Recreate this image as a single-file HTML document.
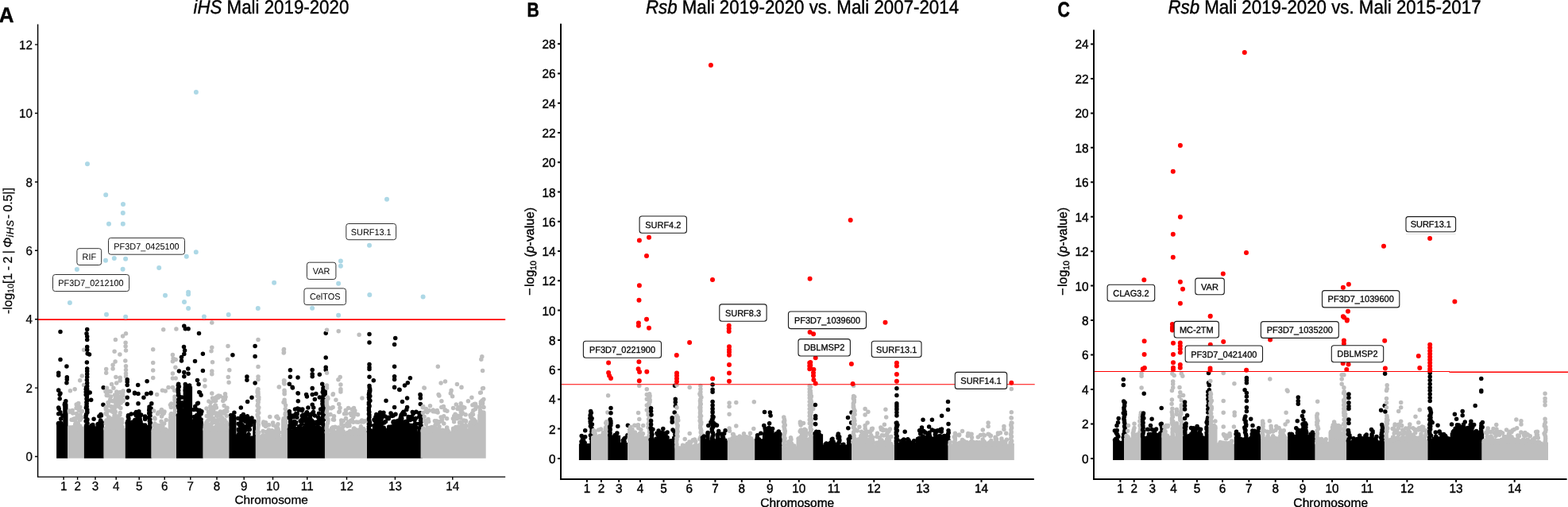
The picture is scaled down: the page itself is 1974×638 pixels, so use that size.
<!DOCTYPE html>
<html lang="en"><head><meta charset="utf-8"><title>Selection scans: iHS and Rsb, Mali</title>
<style>html,body{margin:0;padding:0;background:#fff}body{width:1974px;height:638px;overflow:hidden}svg{display:block}text{font-family:"Liberation Sans", sans-serif;fill:#000}</style>
</head><body>
<svg width="1974" height="638" viewBox="0 0 1974 638" text-rendering="geometricPrecision">
<rect width="1974" height="638" fill="#fff"/>
<g id="panel-A">
<path d="M71.1 576.7V532.6H79.8V576.7ZM79.2 576.7V508.3H85.5V576.7Z" fill="#000"/>
<path d="M73.4 533.1h0M76.2 532h0M75.9 518.8h0M73.7 532.5h0M76.6 527h0M76.3 532.6h0M75.1 520.5h0M74.2 514.4h0M76.8 532.5h0M81.6 507.8h0M82.2 507.6h0M76 417.5h0M76 452.5h0M83.9 461.1h0M73.7 469.2h0M73.7 472.2h0M84.3 474.8h0M84.3 477.5h0M83.9 481.8h0M73.7 491.2h0M76 495h0M73.7 491.1h0M75.2 496.4h0M75.2 501.7h0M73.7 513.1h0M73.7 520.7h0M79 523h0M82.8 504.8h0M81.3 509.3h0" stroke="#000" stroke-width="5.5" stroke-linecap="round" fill="none"/>
<path d="M85 576.7V540.2H106.2V576.7Z" fill="#bebebe"/>
<path d="M87.7 538.1h0M89.6 539.6h0M91.3 538.7h0M93.6 538.1h0M96.7 540h0M99.1 540.7h0M100 540.3h0M103.4 539.3h0M98.3 534.6h0M96.9 512.5h0M101.1 528.2h0M96.9 540h0M91.2 516.4h0M94.1 537.8h0M96.3 520.5h0M98.3 532.5h0M94.5 528.1h0M100 527.6h0M93.7 528.7h0M87.7 539.9h0M98.8 507.6h0M97 531.9h0M90 528.3h0M103.4 517.6h0M96.1 513.5h0M91.1 527.9h0M102.9 525.5h0M94.8 535.5h0M96.2 508.9h0M87.3 517h0M100.7 512.3h0M99.4 515.9h0M95.8 526.1h0M94.2 539.7h0M101.5 525.8h0M90.5 528.2h0M95.2 533.1h0M92.9 527h0M97.5 524.2h0M94.8 540h0M91 537.7h0M96.8 513.5h0M100.4 516.4h0M100.7 535.9h0M101.1 521.7h0M88.6 540.1h0M87.5 518.2h0M91.3 539h0M97.5 533.4h0M88.4 538.1h0M95.9 537.9h0M91.7 520.1h0M94.7 534.1h0M95 540.1h0M105.6 440.3h0M103.3 473h0M100.7 478.8h0M94.2 489.7h0M88.4 491.7h0M105.6 484.4h0" stroke="#bebebe" stroke-width="5.5" stroke-linecap="round" fill="none"/>
<path d="M105.9 576.7V534.9H113.2V576.7ZM112.6 576.7V536.4H121.1V576.7ZM120.5 576.7V532.6H130.8V576.7Z" fill="#000"/>
<path d="M108.6 487.8h0M108.2 489.7h0M109.8 491.2h0M108.2 493.2h0M109.6 495.3h0M108.2 496.7h0M109.4 498.3h0M109.4 499.9h0M109 502.1h0M110 503.8h0M108.9 506.2h0M109.2 507.8h0M109 509.7h0M109.2 511.5h0M108.4 513h0M109.8 515.5h0M109.7 517.3h0M109.9 519.1h0M108.7 521.3h0M108.2 523h0M108.2 525.5h0M110 527.9h0M108.2 530h0M110 532.4h0M108.9 534.7h0M108.5 536.5h0M115.9 535.6h0M117.1 536.3h0M116.9 534.4h0M118.1 527.3h0M115.2 535.4h0M123.4 533.5h0M126.1 531.1h0M127.4 523h0M124.9 523.8h0M126.7 529h0M128.2 531.4h0M126.9 532.3h0M109.7 414.4h0M109 419.8h0M109.7 423.6h0M109.7 427.4h0M109.7 436.5h0M109.7 440.3h0M110.2 444.9h0M112.5 446.1h0M109.4 456h0M109.7 463.9h0M109.7 466.9h0M109.7 470.7h0M109.7 474.5h0M109.4 478.3h0M109.7 482.1h0M109.7 485.9h0M109.7 489.7h0M109.7 493.5h0M109.7 496.5h0M130.2 487.7h0M114.7 503.2h0M129.9 509.3h0M126.9 521.5h0M113.2 494.1h0" stroke="#000" stroke-width="5.5" stroke-linecap="round" fill="none"/>
<path d="M130.5 576.7V538.7H158.1V576.7Z" fill="#bebebe"/>
<path d="M132.9 539.4h0M135.5 538.4h0M137.8 537.6h0M140.4 538.4h0M143.4 536.9h0M144.8 536.6h0M147.4 539h0M149.6 538.4h0M152.3 538.3h0M153.9 537.3h0M145.6 496.7h0M143.2 531.8h0M150.7 503.2h0M133.1 512.8h0M134.9 536.8h0M152.9 538.3h0M138.2 492.4h0M142.4 536.8h0M136.6 533.1h0M149.7 537.1h0M153.5 527.7h0M154.8 497.8h0M139.5 532.7h0M143.6 537.2h0M147.6 538.3h0M133 492.8h0M139.5 517h0M143 530.4h0M134.2 497.5h0M154.8 493.7h0M135.3 534h0M146.8 493h0M145.1 511.8h0M147.8 532.5h0M145.1 530.6h0M138.4 537.6h0M139.2 492.7h0M143 513.9h0M147.4 495.7h0M141.7 530.7h0M140.2 530.3h0M152 498.9h0M139.7 529.6h0M145.2 517.9h0M146.3 532.9h0M133.3 533h0M134.4 519.4h0M134.4 537.7h0M147.2 531.3h0M150.8 522.3h0M152.4 535.8h0M144.2 505.3h0M134.6 495.1h0M136.7 506.4h0M155.2 503.6h0M140.1 537h0M144.5 497.1h0M139.5 498.9h0M136 497.7h0M133.5 530.3h0M153.3 504.7h0M153.4 502.3h0M149.7 511.7h0M136.8 525.3h0M136.4 510.2h0M148 532.7h0M134.3 494.1h0M151.2 519.5h0M145.1 501.7h0M143.1 526.9h0M140.5 532.5h0M133.4 514.2h0M142.3 518.4h0M134.2 528.7h0M135.9 536.6h0M138.7 503.1h0M141.8 526.7h0M146.7 533.3h0M133 520.6h0M144.2 514h0M142.8 511.9h0M149.4 533.2h0M144 523.1h0M137.9 526.2h0M145.5 498h0M153.6 531.9h0M147.5 538.2h0M134.4 521.4h0M152.7 535.7h0M150.2 499.6h0M139.9 511.5h0M152.1 528h0M148.7 508.9h0M146.3 501.3h0M153.2 494.3h0M145.8 535.2h0M138.5 533.9h0M145.7 507.6h0M134 512.2h0M149.1 529h0M144.5 535.5h0M149.4 538.3h0M155.1 504.4h0M147.1 532.1h0M153.5 494.4h0M136 506.5h0M151.9 513.4h0M148.7 524.7h0M153.8 493.6h0M141.5 504.8h0M142.6 535.5h0M140.2 536.5h0M153.4 494.4h0M135.5 516.7h0M142.1 536.8h0M139.5 532.8h0M149.8 538.7h0M137.1 525h0M133.3 515.2h0M146.6 502.7h0M137.5 531.5h0M145.1 531.9h0M146.1 532.7h0M148.3 505.5h0M151.2 493.4h0M145.2 522.5h0M152.2 506.9h0M145.8 527.5h0M139.3 537h0M158.5 419.8h0M154.6 423.1h0M145.4 427.4h0M158.1 431.2h0M158.1 435.7h0M158.5 441.1h0M144.1 442.3h0M150.9 446.1h0M157.8 454h0M145.1 455h0M142.1 459.3h0M142.1 463.9h0M133.7 464.6h0M133.7 469.2h0M158.5 460.8h0M158.5 465.4h0M158.5 469.9h0M158.5 473.7h0M145.9 474.5h0M151.2 475.3h0M151.2 479.1h0M140.6 483.6h0M146.7 482.1h0M142.9 488.2h0M134.5 488.2h0M134.5 492.7h0M155 492h0M146.7 495.8h0" stroke="#bebebe" stroke-width="5.5" stroke-linecap="round" fill="none"/>
<path d="M157.8 576.7V531.1H162.2V576.7ZM161.6 576.7V532.6H181.2V576.7ZM180.6 576.7V536.4H184.7V576.7ZM184.1 576.7V534.9H191.4V576.7Z" fill="#000"/>
<path d="M161.5 522.7h0M161.3 524.3h0M161.9 526.3h0M161.9 528.6h0M160.8 530.2h0M160.3 532.3h0M164.4 532.1h0M166.2 531.8h0M168.1 532.9h0M170.8 532.5h0M172.6 530.4h0M175 533.2h0M177.7 533.5h0M176.2 528.6h0M174.9 517.7h0M168.5 531.5h0M173.1 526.7h0M169.3 532.6h0M169.8 528.4h0M170 520.4h0M172.6 523h0M177.1 522.7h0M171.3 522.8h0M173.4 524.6h0M173.3 528.6h0M173.2 524.9h0M177.7 522.1h0M176.4 522.4h0M175.9 525.4h0M169.2 530.5h0M174.4 520.2h0M172 531.7h0M176.2 527.5h0M170.9 532.4h0M171.5 522.8h0M170.3 529.4h0M173.6 532.5h0M171.5 518.6h0M174.1 528.7h0M174.1 525.4h0M167.2 531.1h0M177 530.5h0M165.2 521.1h0M171.7 529.2h0M171.5 523h0M182.6 534.9h0M182.6 535.2h0M182.6 527.6h0M182.6 526.3h0M182.6 524.1h0M188 512.1h0M187.9 514.2h0M187.7 516.3h0M189.4 518.6h0M187.8 520.4h0M189 523h0M187.4 525.4h0M188.8 527.9h0M188.3 529.7h0M189.2 532h0M188.8 533.6h0M189.6 535.2h0M160.2 477.8h0M160.2 480.6h0M160.2 484.4h0M162.3 491.7h0M173.7 484.4h0M185.1 479.8h0M169.5 494.3h0M174 495.5h0M184.7 495.8h0M190 494.3h0M160.2 500.2h0M160.2 508.6h0M174 507.8h0M190.8 507.8h0M169.5 494.9h0M174 495.6h0M180.9 500.2h0M184.7 495.6h0M190 494.9h0M161.9 491.8h0M190 513.9h0M187.7 520h0" stroke="#000" stroke-width="5.5" stroke-linecap="round" fill="none"/>
<path d="M190.3 576.7V541.7H212.3V576.7ZM211.7 576.7V527.3H218.4V576.7ZM217.8 576.7V504.5H222.2V576.7Z" fill="#bebebe"/>
<path d="M193.5 541.8h0M195.2 541.2h0M196.9 541.8h0M199.7 540.3h0M202.3 540.5h0M203.6 541.1h0M205.1 539.7h0M208.4 540.2h0M204.7 521.6h0M209.2 528.6h0M198.5 520.7h0M194.6 525.9h0M194.2 534.8h0M201.1 535.4h0M195.5 538.7h0M206.7 533.1h0M202.6 539h0M204.9 536.5h0M202.8 518h0M209.7 541.4h0M206.3 520h0M198.1 535.2h0M202.6 517.6h0M199.4 519.1h0M205.6 540.1h0M208.3 541.7h0M195.1 526.9h0M193.5 535.3h0M194.8 533.1h0M207 518.1h0M193.2 541.3h0M207 541.5h0M197.3 540.6h0M194.1 541.6h0M203.5 524.1h0M204.4 520.4h0M204 535.1h0M203.4 515.6h0M203.6 538.4h0M193.6 517h0M202.7 536.1h0M203 530.2h0M214.8 525.3h0M214.9 525.1h0M215.7 520.5h0M215.3 512.6h0M215.5 512.4h0M215.5 524.2h0M215.8 525.8h0M215.7 508.1h0M215.6 527h0M214.4 509.4h0M215 521.8h0M215.9 527.1h0M220 503h0M220 499.2h0M220 500.4h0M192.7 439.8h0M192.7 456.6h0M192.7 466.1h0M192.7 475.6h0M205.7 414.7h0M221.9 414h0M217.4 446.4h0M218.1 450.9h0M221.2 452.5h0M217.4 454.7h0M220.9 462.3h0M217.4 469.9h0M217.4 476h0M221.2 476h0M212 487.4h0M217.4 487.4h0M204.4 491.2h0M208.2 492h0M197.6 496.5h0M219.6 491.2h0" stroke="#bebebe" stroke-width="5.5" stroke-linecap="round" fill="none"/>
<path d="M222 576.7V522H227.5V576.7ZM226.9 576.7V523.5H231.2V576.7ZM230.6 576.7V486.2H242.1V576.7ZM241.5 576.7V529.7H255.8V576.7Z" fill="#000"/>
<path d="M224.3 484.7h0M225.4 486.6h0M224.3 489h0M224.3 491.1h0M224.3 493.4h0M224.7 494.9h0M224.5 497.2h0M225.7 498.7h0M225.8 501.1h0M224.8 502.8h0M225.1 504.5h0M224.6 506.3h0M226 508.7h0M224.3 510.8h0M224.8 513h0M225.5 515.5h0M225.4 517.9h0M225.9 520h0M224.4 522.4h0M229.1 522h0M229.1 516.3h0M229.1 511.5h0M229.1 522.5h0M229.1 517h0M229.1 509.6h0M229.1 523.2h0M229.1 500h0M229.1 506.7h0M229.1 517.9h0M229.1 518.3h0M233.5 485.1h0M236.3 485.7h0M238.6 485.1h0M244.1 530.6h0M247.4 530.5h0M250.2 530.5h0M253.1 527.9h0M249.4 507.2h0M251.3 516.3h0M251 524.7h0M252.8 517.9h0M247.8 522.5h0M253.1 520.8h0M245.6 528.4h0M250.4 520.1h0M252.4 527.9h0M247.9 515.5h0M244.6 529h0M249.1 526.6h0M245.1 526.6h0M249.9 521h0M244.8 529.2h0M251.9 517.9h0M245.7 511.5h0M244.3 524.6h0M231.8 410.3h0M233.3 413.7h0M237.1 413.7h0M250.5 419.5h0M231.5 436.5h0M232.6 441.1h0M231.8 445.6h0M228.5 449.4h0M228.5 454h0M255.4 445.3h0M245.5 454.4h0M236.8 463.9h0M225.4 466.9h0M255.4 466.4h0M231.8 468.4h0M237.1 470.2h0M231.8 473.7h0M248.5 478.6h0M224.7 483.2h0M250.1 483.6h0M233.3 483.6h0M236.4 486.7h0M233.3 491.2h0M236.4 491.2h0M224.7 491.2h0M250.8 493.5h0M224.7 495h0M234.9 495h0M248.5 507.8h0M244 515.4h0M250.1 516.9h0M253.1 497.2h0M251.6 494.1h0M253.9 517.7h0" stroke="#000" stroke-width="5.5" stroke-linecap="round" fill="none"/>
<path d="M255.5 576.7V540.2H288.7V576.7Z" fill="#bebebe"/>
<path d="M258.7 540.3h0M260.7 539.9h0M263.6 539.3h0M265.7 541h0M268.6 540.6h0M271.1 538.6h0M274.3 539.6h0M276.2 540.8h0M279.1 538.1h0M281.7 538.6h0M284 538h0M285.3 540.8h0M285.3 523.2h0M274 522.8h0M272.7 523.2h0M281 500.6h0M269.4 518.9h0M266.5 533.1h0M272.1 521.1h0M273.4 499.1h0M262.4 518.6h0M286 513.3h0M273.8 530.7h0M269.2 501.6h0M283.2 516.9h0M283.3 502.3h0M281.8 530.1h0M270.9 510h0M268.3 512.6h0M271.4 531.9h0M270.7 538.5h0M267.8 528.8h0M258.3 537.1h0M265.2 506.4h0M274.5 533.6h0M286.1 534.6h0M272.3 513.1h0M277.4 528h0M279.8 525.8h0M278.1 525.5h0M285.3 514.4h0M260.4 538.2h0M285.2 535.5h0M258.5 534.8h0M271.4 500.6h0M269.1 514h0M281.4 539.1h0M275.1 497.9h0M273.4 523.6h0M267.6 501h0M285.3 538.8h0M273.4 528.6h0M276.8 538.4h0M265.3 533.9h0M271.4 510.1h0M282.1 510.5h0M277 539.1h0M268.8 516.9h0M266.1 524.8h0M283.4 538.5h0M282 538.7h0M268.7 503.5h0M263.5 524.2h0M269.6 504.6h0M285.9 533.6h0M271.7 504.2h0M273.2 536h0M279.3 531.9h0M271.6 540.2h0M285.8 517.5h0M284 499.6h0M265.4 523.3h0M270.3 512h0M281.7 535.5h0M265.6 514.9h0M269.4 538.2h0M263.3 522.3h0M274.7 500.2h0M272.9 520h0M262 528.9h0M265.7 515.5h0M265.3 536h0M268.2 526.5h0M267.4 520.1h0M262.9 505.1h0M277.5 523.5h0M259.4 532.3h0M277.3 518.1h0M280.8 504.4h0M266.7 525.4h0M267.1 538.2h0M261.8 534.7h0M260.3 523.4h0M277.7 522.2h0M277.2 535.6h0M263.4 522h0M282.8 528.5h0M257.9 540.1h0M266.4 519.6h0M260.2 535.7h0M277.1 498.6h0M267.4 520.4h0M272.5 540h0M267.1 538h0M264.9 511.4h0M277.1 539.8h0M260 513.9h0M260.7 532.6h0M265.4 539.7h0M258.7 538h0M269.1 501.8h0M275.9 535.1h0M277 534.1h0M272.4 532.4h0M284.7 531.3h0M280.6 518.3h0M281.7 520.1h0M282.4 529.2h0M277 519.4h0M272.7 522.1h0M273 529.7h0M283.2 518.8h0M273.3 539.7h0M272.2 537.1h0M263.9 528h0M273.3 534.9h0M265.5 523.8h0M271.2 529.3h0M260.7 530.5h0M266.8 406.1h0M266.8 437.3h0M266 441.8h0M267.5 455.8h0M266.8 466.9h0M266.8 470.7h0M257.9 478.3h0M257.9 485.9h0M287 435.4h0M286.5 452.2h0M288.8 465.8h0M287.3 474.5h0M288.1 481.3h0M266.8 495h0M283.5 495.8h0" stroke="#bebebe" stroke-width="5.5" stroke-linecap="round" fill="none"/>
<path d="M288.4 576.7V525H297.5V576.7ZM296.9 576.7V548.5H318.8V576.7ZM318.2 576.7V531.8H322V576.7Z" fill="#000"/>
<path d="M291.3 524.5h0M293.9 525.1h0M290.8 522.6h0M293.6 524.1h0M294.6 524.3h0M300.4 547h0M303.1 547.4h0M305.2 549.1h0M307.6 546.7h0M309.9 548.5h0M313 546.4h0M314.9 535.2h0M305.8 537.7h0M314.3 540.5h0M312.5 536.6h0M306.5 525.3h0M306.3 536.4h0M300.3 540.2h0M300.1 533.3h0M299.5 548.3h0M301.3 547.2h0M308 543.1h0M304 523.4h0M314.7 534.9h0M312.9 529.4h0M303.6 529.8h0M303.5 537.7h0M305.4 546.9h0M312.5 525.9h0M304.7 527.2h0M305.3 534.8h0M316.2 531h0M300.4 541.1h0M305.8 544.4h0M313.1 541h0M311.2 535.5h0M308.2 548.2h0M310.7 526.8h0M302.3 535.2h0M307.6 543.4h0M311.4 523.7h0M299.8 526.6h0M305.9 528.9h0M302.4 532.9h0M301.1 543.5h0M315.7 534.8h0M312.6 540.5h0M307.3 539.6h0M312.4 532.7h0M302.7 541h0M308.5 537.4h0M315 528.7h0M320.1 530.3h0M320.1 530.9h0M321.1 435.4h0M292.9 446.8h0M321.1 448.4h0M310.9 474h0M310.9 478.3h0M321.1 482.1h0M303.3 513.1h0M306.3 521.5h0M317 526.1h0M311.6 505.5h0M317 500.2h0M294.9 519.2h0M292.6 523h0M309.4 530.6h0M301.8 535.2h0" stroke="#000" stroke-width="5.5" stroke-linecap="round" fill="none"/>
<path d="M321.7 576.7V548.6H328.2V576.7ZM327.6 576.7V550.1H354.5V576.7ZM354 576.7V527.3H362.2V576.7Z" fill="#bebebe"/>
<path d="M324.4 490.8h0M324.1 492.3h0M324.1 493.8h0M325.1 496.1h0M324.1 498.5h0M325.8 500.1h0M325.7 502.5h0M324.4 503.9h0M325.2 506h0M324.7 508.5h0M324.1 510.4h0M325.8 512.8h0M325 515.3h0M324.1 517.1h0M325.7 519.4h0M324.1 522h0M324.7 524.1h0M325.4 526h0M325.2 528.5h0M325.1 530.7h0M324.7 532.9h0M325.3 534.6h0M325 536.2h0M324.8 538h0M324.6 540.2h0M324.1 542.8h0M325.7 544.2h0M324.1 546h0M324.9 547.9h0M325.1 550.4h0M330.7 549.3h0M332.9 548.4h0M335 548.5h0M337.7 548.4h0M340.7 550.4h0M343 548.9h0M344.2 549h0M346.5 548.3h0M348 548.5h0M351.1 548.5h0M349.2 538.1h0M342.2 543.4h0M334.4 536.5h0M331.8 531h0M331.4 532.4h0M338.5 534.7h0M343 548.8h0M341.9 549.5h0M335.4 543.6h0M336.4 535.3h0M351.7 544.2h0M348.4 547.1h0M345.6 544.5h0M341.8 549.3h0M348.2 547.5h0M340.3 545.8h0M347.8 537.6h0M343.6 532.1h0M335.7 549.7h0M348.2 545.2h0M347.9 524.5h0M343.9 549.2h0M348.8 536.3h0M335.5 547.5h0M341.2 548.9h0M349.9 533.8h0M348 543.6h0M350.3 548.7h0M345.8 546.6h0M330.2 548.9h0M334.5 531.8h0M338.4 540.9h0M343.5 546.3h0M344.1 535h0M350.2 540.3h0M348.8 524h0M346.9 542.6h0M336.1 549.2h0M348.3 548.8h0M342.4 541.7h0M331.1 547.4h0M348.1 539.3h0M350.3 526.4h0M332.2 534.8h0M331.1 542.6h0M339.8 524.5h0M343.1 547.8h0M357.1 526.7h0M358.7 527.9h0M359 526.9h0M359.4 519.7h0M359.1 525.5h0M357 506.3h0M357.4 527h0M358.1 503.3h0M359.1 521.2h0M359.6 510h0M359.2 514.6h0M357.8 506.3h0M358 505.3h0M358.3 506.2h0M325 427.4h0M325 461.6h0M325 474h0M325 477.5h0M325 489.7h0M325 493.5h0M357.2 440.3h0M357.2 444.1h0M358 479.1h0M358 482.9h0M351.2 487h0M358 491.2h0M358 495h0M357.5 439.5h0M357.5 443.3h0M357.5 478.8h0M357.5 482.1h0M351.4 487h0M358.2 492.7h0M358.2 495.8h0" stroke="#bebebe" stroke-width="5.5" stroke-linecap="round" fill="none"/>
<path d="M361.9 576.7V539.4H367.7V576.7ZM367.1 576.7V540.9H405.7V576.7ZM405.1 576.7V539.4H409.2V576.7Z" fill="#000"/>
<path d="M364.8 521.2h0M365.1 523.1h0M364.2 524.9h0M365.7 527h0M365.7 528.7h0M365.5 531.1h0M366 533h0M365 535.3h0M365 536.9h0M365.8 538.3h0M364.5 540.1h0M370.3 540.6h0M372.6 541.5h0M374.6 541.3h0M375.8 539.8h0M378.6 539.2h0M379.7 540.4h0M383.2 541.5h0M384.5 538.9h0M387.9 539.6h0M390.6 540.6h0M392.5 539.3h0M395.6 539h0M398.2 539.6h0M399.5 540.3h0M402.2 541.5h0M397.2 540.4h0M380.2 516.6h0M398.4 539.6h0M384.4 534.9h0M394.7 540.8h0M380.2 523.2h0M399.3 540.7h0M389.3 526.2h0M398.9 533.4h0M402.2 538.5h0M373.5 539.7h0M389.3 539.8h0M378.6 538.6h0M371.5 515.1h0M380.8 515.1h0M393.9 538.1h0M400.9 540.9h0M402.5 540.8h0M378.1 529.7h0M369.9 522.7h0M372.5 520.7h0M370.8 530.4h0M376.6 536.7h0M386.1 534.8h0M382.8 526.5h0M376.2 538.8h0M392.6 536.5h0M400.9 533.3h0M385.5 540.8h0M370.3 540h0M390.6 526.1h0M401.5 533.2h0M393.3 535.4h0M372.1 533.5h0M393.1 521.2h0M401.5 520.2h0M388.5 529.8h0M386.4 531.9h0M392.4 529h0M398.3 532.7h0M385.4 520.2h0M392.3 530.6h0M388.5 521.2h0M390 537.3h0M380 528.1h0M371.2 532.5h0M399.5 537.9h0M384.5 524.9h0M400.6 525.1h0M390.6 534.4h0M384.3 526.9h0M381.6 521.9h0M369.9 523.1h0M394.5 536.3h0M370.1 535.6h0M389.4 521.9h0M398.8 538.3h0M372.4 539.8h0M402.8 526.8h0M373.9 525.2h0M401.8 528h0M377.4 515.1h0M393.1 538.8h0M395.3 531.2h0M388.9 534.9h0M379.5 533.5h0M387.3 532.4h0M398.6 540.4h0M376.3 516.1h0M390 527.7h0M390.7 537.7h0M382.8 538.3h0M374.7 514h0M394.5 518.4h0M369.7 524.8h0M379.9 531.3h0M392.2 540.8h0M382 529.7h0M398.9 530.9h0M380.3 528.1h0M389.2 536.6h0M388 537h0M370 536.2h0M372.5 531.5h0M386.4 518.7h0M407.7 487.8h0M408.3 490h0M406.8 491.8h0M406.2 493.4h0M407.2 495.5h0M408.1 497h0M406.1 499.6h0M406.1 501h0M408 503.3h0M405.9 504.8h0M406.7 506.8h0M405.9 508.2h0M406.4 509.9h0M407.2 511.6h0M406.5 513.3h0M408.1 515h0M407.3 516.7h0M406.7 518.6h0M406 520.5h0M407.5 522.1h0M406.5 524.4h0M408.1 526h0M407.8 527.6h0M406.3 530h0M406.3 532.4h0M406.6 533.9h0M407.3 535.7h0M407.8 537.6h0M406.2 539.8h0M410.2 419.3h0M410.2 449.9h0M410.2 462.3h0M410.2 465.4h0M365.4 465.7h0M393.2 465.4h0M393.2 470.7h0M393.2 473.7h0M402.3 471.2h0M365.4 474.2h0M375 475h0M364.3 483.2h0M405.7 483.3h0M368.4 487.9h0M393.2 488.6h0M406.9 488.6h0M375 494.7h0M397.8 495.5h0M409.2 492.7h0M409.2 495.8h0M393.2 496.5h0M385.6 496.5h0M368.1 487.3h0M393.2 488.8h0M375.3 494.9h0M393.2 496.4h0M386.4 499h0M397.8 495.6h0M402.3 499.9h0M396.3 502.5h0M375.3 504.8h0M393.2 509.3h0M387.9 513.1h0M394.7 513.1h0M403.6 515.1h0M364.3 517.7h0M374.2 520.7h0M393.2 520h0M396.3 523h0M364.3 526.1h0M381.8 526.1h0M402.3 529.9h0M406.9 491.1h0M409.2 494.9h0" stroke="#000" stroke-width="5.5" stroke-linecap="round" fill="none"/>
<path d="M408.9 576.7V543.2H414.8V576.7ZM414.2 576.7V544.7H462.2V576.7Z" fill="#bebebe"/>
<path d="M412.4 499.9h0M412.9 501.5h0M411.2 503.8h0M411.3 505.6h0M411.2 507.5h0M411.3 508.9h0M411.5 510.5h0M412.7 512.5h0M412.1 514.7h0M411.6 517.1h0M411.2 519h0M412.8 521.4h0M412.1 523.9h0M411.2 525.5h0M412.8 527.8h0M412.9 529.9h0M412.5 532.4h0M411.7 534.2h0M411.6 536h0M411.2 538h0M411.2 539.6h0M412.7 541.6h0M411.2 543.9h0M417.4 543h0M419.1 543.3h0M421.1 545.3h0M423.4 544.3h0M426.8 545.2h0M428.4 543.1h0M431.8 544.9h0M432.9 545.6h0M435.9 545.3h0M438.3 544.7h0M439.7 545.6h0M441.6 544.5h0M444.4 543.3h0M447.4 543.8h0M449.1 545.6h0M451.7 542.9h0M453.9 545.4h0M455.5 543.5h0M458.6 544.3h0M440 535.7h0M454.2 530.6h0M437.1 533h0M432 535.7h0M419.9 541.8h0M449.5 543.2h0M425.7 542.6h0M432.3 544.4h0M432.2 529.6h0M445.9 519h0M420.5 528.3h0M425.2 538.4h0M441.4 520.3h0M445.5 513.5h0M417.5 539.1h0M437.4 544.5h0M419 537.7h0M440.8 543.2h0M419.7 539h0M448.6 531.1h0M459.6 529.7h0M455 530.9h0M437.4 536.2h0M419.8 544.2h0M445 519.3h0M417.6 542.3h0M430.8 539.2h0M452.6 540.7h0M429.9 533.9h0M457.6 539.6h0M444 544.4h0M435.3 516.3h0M426.1 538h0M444.8 531.2h0M441.5 529.6h0M445.8 538.9h0M431.9 536.8h0M439.2 531.1h0M454.3 536.8h0M436 520.5h0M458.4 540.9h0M448.1 540.8h0M448.6 544.5h0M438.5 531h0M446.8 516.7h0M450.9 531.3h0M438.1 544.7h0M440.5 531.3h0M448.6 542.6h0M442 544.4h0M447.9 521h0M435.5 526.5h0M445.2 539.4h0M420.5 523.7h0M432.1 542.7h0M435.7 520.5h0M457.7 531.1h0M458.4 542.4h0M437.8 544.7h0M426.8 518.6h0M419.3 527.9h0M438.6 513.4h0M459.4 543.4h0M428 513.2h0M430.9 542.3h0M455.9 529.3h0M430 531.6h0M435.1 534.9h0M440.5 542.5h0M443.2 515h0M442.2 522.4h0M428.9 542.8h0M417 513.7h0M421.9 537.3h0M444.9 524.7h0M411.5 415.2h0M426.2 416.7h0M452.1 421.3h0M411.5 469.2h0M428.2 474.5h0M425.9 477.8h0M428.9 483.9h0M411.5 485.1h0M411.5 488.2h0M428.9 489.7h0M428.9 493.1h0M419.4 495.8h0M428.9 491.1h0M419.1 496.4h0M422.9 503.2h0M455.9 501h0M426.7 508.6h0M419.1 512.4h0M427.4 517.7h0M433.5 520.7h0M450.5 521.8h0M416 521.5h0M443.4 528.3h0M455.6 529.1h0M429.7 529.1h0" stroke="#bebebe" stroke-width="5.5" stroke-linecap="round" fill="none"/>
<path d="M462 576.7V541H468.8V576.7ZM468.2 576.7V542.5H526.6V576.7ZM526 576.7V541H531.9V576.7Z" fill="#000"/>
<path d="M465.2 487.8h0M465.7 489.7h0M465.8 491.6h0M465.5 493.1h0M464.7 494.6h0M464.4 496.5h0M465.8 498.5h0M464.4 499.9h0M464.8 502.5h0M465.9 504.3h0M464.4 506.7h0M464.4 508.8h0M465.1 511.1h0M464.4 513.5h0M464.4 516h0M464.8 518.4h0M464.4 520.9h0M464.9 522.3h0M464.9 524.9h0M464.4 526.9h0M464.8 528.9h0M465.5 531.4h0M464.4 533.4h0M466.1 534.9h0M464.4 537.1h0M464.4 539.4h0M465.9 541.4h0M464.4 542.9h0M470.8 541.5h0M473 540.3h0M475.5 542.6h0M477.7 541.3h0M479.8 541.8h0M482.4 542h0M484.6 542.9h0M487.8 542.3h0M490.1 542.2h0M492.6 541.5h0M494.6 541h0M497 541.1h0M500 542.7h0M502.1 541.4h0M503.8 542.4h0M506.2 543h0M507.5 541.5h0M510.7 540.8h0M513.1 543.3h0M515.4 543h0M516.4 542.2h0M519.3 541.2h0M521.7 540.6h0M523.1 542h0M523.3 526.6h0M478.4 535.4h0M499.6 530.1h0M508.1 519.1h0M520.9 540.2h0M479.2 519.2h0M479.3 519.3h0M477.1 531.6h0M477.6 541.3h0M488.5 525.3h0M508.1 538.1h0M478 537.2h0M480 539.7h0M497.2 534.2h0M519.9 541.8h0M499.1 532.1h0M478.3 537.2h0M478.1 521.9h0M489.3 542.1h0M496 533.1h0M518 527.6h0M481.7 521.4h0M471 528.3h0M473 524.4h0M480.8 525.2h0M514.1 526h0M476.6 536.3h0M476.3 527.7h0M523.7 533.3h0M505.5 529.2h0M478.3 537h0M489.3 526.7h0M492.6 537h0M500 540.2h0M474.2 539.6h0M471.8 529.2h0M495.1 530.7h0M501 542.2h0M514.2 524.5h0M471.1 535.6h0M512.6 536h0M516.5 528.4h0M505.9 521.5h0M512.2 531.6h0M473.2 535h0M507.4 533.3h0M501.9 537.4h0M515.5 539.5h0M504.8 535.4h0M478.7 542.4h0M477.6 538.7h0M495.9 542.4h0M474.3 525.2h0M523 535.6h0M495.8 531.1h0M475.9 532.9h0M506.6 520.2h0M505 532.7h0M492.6 521.3h0M498.6 534.4h0M509.8 535.4h0M474.3 531.4h0M516.9 537h0M475.9 541.6h0M519 541.6h0M505.6 541.8h0M498 521.3h0M483.2 538.3h0M503.3 531.9h0M500.6 536.5h0M472.9 531.3h0M485.5 530.6h0M494.1 539.1h0M523.8 538h0M522.5 534.4h0M499.2 539.1h0M480 528h0M495 531.6h0M480.5 533.6h0M505.8 526.4h0M506.2 536h0M507.2 531.3h0M496.2 530.3h0M487.1 542.1h0M478.6 519.1h0M518.3 524.2h0M484.5 523.8h0M512.8 532.8h0M486.9 541.6h0M523.9 518.2h0M516.1 535.2h0M509.6 521.3h0M499.6 541.4h0M522.7 532.9h0M511.7 530.5h0M474.2 534.8h0M471.4 539.1h0M522 528.5h0M500.9 541.6h0M507.2 531h0M504.7 528.6h0M520.2 535.2h0M503.3 533.1h0M502.1 528.9h0M480.7 542.1h0M476.9 542.3h0M500.3 538.4h0M512.5 540.9h0M478.7 522.9h0M475.5 537.4h0M507.5 532.2h0M484.9 541.3h0M501.5 539.5h0M516.3 539.2h0M520.4 542.4h0M503.3 538.8h0M496 535.5h0M513.8 540.5h0M511.6 542.3h0M504.7 524.3h0M493.6 523.4h0M489.6 537.3h0M519.3 518.5h0M512.8 539.8h0M520.9 537.1h0M517 538h0M482.3 539.3h0M507.5 518.9h0M498.5 541.6h0M507.2 521.8h0M512.4 542.5h0M487.4 525.8h0M508.1 518.3h0M518.6 525.1h0M507.5 536.8h0M472.6 526.1h0M495.1 522.9h0M477.7 523.2h0M505.1 522.2h0M508.1 535.5h0M498.2 541.7h0M483.6 531.9h0M480.2 537.2h0M505 531.3h0M518.3 535.5h0M500.2 535.8h0M510.9 530.4h0M521.1 541.2h0M477.5 538.6h0M529.3 519.7h0M528.3 521.8h0M529.3 523.6h0M529.8 525.3h0M529.7 526.8h0M529.5 528.4h0M530.1 530.7h0M527.9 533.2h0M530 535.4h0M528.9 537.7h0M528.5 540h0M528.8 542.4h0M465 420.5h0M465 430.9h0M497.7 425.4h0M496.6 433.4h0M465 458.5h0M465 462.3h0M465 464.6h0M496.6 461.3h0M465 474.2h0M470.3 478.8h0M496.6 473.7h0M496.6 477.5h0M516.4 475.7h0M513.3 481.8h0M509.5 485.1h0M465 485.4h0M496.6 487.4h0M503.1 490.5h0M465 492h0M465 495.8h0M529 496.5h0M496.6 487.3h0M502.7 490.3h0M529.3 497.2h0M529.3 501h0M512.6 501h0M486 504.3h0M506.5 505.5h0M529.3 508.6h0M496.6 512.4h0M512.6 512.4h0M511.8 515.4h0M520.2 520.7h0M473.8 521.5h0M482.9 519.2h0M492 520h0M504.2 526.1h0M527.8 520h0M527.8 524.5h0" stroke="#000" stroke-width="5.5" stroke-linecap="round" fill="none"/>
<path d="M529.6 576.7V542.5H568.4V576.7ZM567.8 576.7V539.4H589.7V576.7ZM589.1 576.7V531.8H601.8V576.7ZM601.2 576.7V521.2H611.7V576.7Z" fill="#bebebe"/>
<path d="M532 542.1h0M534.5 543.4h0M536.8 541h0M538.4 541.6h0M540 543.1h0M541.6 541.4h0M542.6 540.4h0M545 542h0M548.1 543h0M549.6 543.1h0M551.6 543.4h0M554.2 541.3h0M557.3 541.3h0M558.3 541.8h0M562.1 540.7h0M563.3 541.1h0M537.5 529.3h0M562.9 517.3h0M553 536.8h0M562.7 539.4h0M533.2 539.3h0M558.7 523.8h0M542.4 539.2h0M553.5 530.8h0M558.8 533h0M534.7 541.9h0M539.7 530.4h0M556.1 529.2h0M532.2 512.8h0M547.4 529.8h0M538.4 538.6h0M539.1 527.4h0M562.7 538.1h0M543.7 537.5h0M532.8 542.4h0M558.4 511.6h0M533.3 541.8h0M547.2 537.1h0M540.2 516.6h0M538.4 539.7h0M562.6 526.8h0M555.2 525h0M532.7 511.6h0M532.8 539h0M548 518h0M564.1 542.4h0M536.6 542.4h0M536.5 514.6h0M534.7 529.8h0M538.5 542.4h0M541.4 538.3h0M550.3 516.4h0M549.9 530h0M541.3 540h0M548.1 534.6h0M562.5 539.4h0M532.7 542.1h0M542.6 539.2h0M545.3 516.1h0M556.6 527.9h0M560.1 516.2h0M534.1 524.2h0M536.3 534.1h0M545.1 537.9h0M533.4 539.7h0M555.8 512.6h0M562.7 542.4h0M551.2 539.8h0M549.5 530h0M537.4 541.6h0M548.2 542.1h0M560.4 515.7h0M532.4 519.6h0M560.3 542.2h0M551.8 532h0M537.8 518.8h0M551.1 519.1h0M571.3 540.3h0M573.8 537.4h0M575.4 538.9h0M577.9 539.1h0M580.2 540.2h0M583 539h0M584.7 537.6h0M580.4 516.4h0M571.6 530.8h0M580.2 538.9h0M583.1 512.2h0M580.8 518.1h0M586.2 529.6h0M578.9 512.7h0M581.7 534.8h0M580.2 518h0M584.5 537.9h0M573.1 521.2h0M582.3 519.5h0M578.5 531.8h0M586.4 535.3h0M575.1 539.3h0M571.7 523.6h0M581.4 536.2h0M582.7 537.2h0M576.6 523.2h0M583.4 529.7h0M583.9 529.1h0M581.5 515.1h0M579.8 526h0M586 539.2h0M570.6 539.2h0M575.5 526.8h0M580.7 521.5h0M570.6 513.4h0M574.3 509.1h0M576.1 514.6h0M582.3 539.3h0M578.9 531.5h0M587 535.9h0M576.9 537.1h0M570.4 526.8h0M580.7 537.3h0M584.4 536.1h0M586.1 521.8h0M586.6 530.2h0M592.5 531.6h0M594.6 531.3h0M596.5 532.6h0M598.8 532h0M594.9 509.8h0M595.5 521.4h0M595.5 529.8h0M599.2 513.1h0M593.8 525.9h0M597 508.4h0M595.8 527.4h0M594.4 520.2h0M598.4 514.8h0M593.3 531.7h0M596.6 527.9h0M598.3 530h0M599.2 511.1h0M593.5 531.8h0M597.9 530.8h0M592.8 524.9h0M592.9 531h0M595.8 516.5h0M597.6 531.4h0M592 522.5h0M597.3 529.1h0M596.2 530.8h0M598.5 508.3h0M604.8 520.2h0M606.4 520.4h0M608 521.2h0M606.1 518.5h0M604.6 520.9h0M608.9 502.4h0M604.1 512.2h0M609 512.6h0M609 520.1h0M607.6 505.9h0M604.4 519.4h0M608.9 519h0M607.1 504h0M607.6 507.8h0M605.4 505.7h0M604.5 516.2h0M606.8 448.7h0M605.8 452.2h0M551.3 461.3h0M607.6 466.4h0M560.5 480.1h0M555.1 482.1h0M575.4 483.6h0M581 487.4h0M534.3 488.2h0M608.4 488.5h0M568.1 491.2h0M567.3 495h0M604.6 494.3h0M552.1 496.5h0M533.9 488h0M581 487.3h0M568.1 491.8h0M607.6 488.8h0M605.3 494.1h0M552.9 497.9h0M569.6 498.7h0M593.9 500.2h0M555.9 504.8h0M589.4 504.8h0M580.2 507.8h0M605.3 507.8h0M541.5 510.8h0M577.2 512.4h0M584.8 513.1h0M536.1 516.9h0M545.3 517.7h0" stroke="#bebebe" stroke-width="5.5" stroke-linecap="round" fill="none"/>
<path d="M47.65 402.1H636.2" stroke="#f00" stroke-width="1.6" fill="none"/>
<path d="M154.8 268h0M137 281.8h0M154.8 281.8h0M246.8 317.2h0M234.8 322.7h0M133 327.7h0M143.8 324.9h0M158.1 325.7h0M96.9 339h0M154.6 338.7h0M200.2 337h0M345.1 355.8h0M208 371.8h0M237.1 367.8h0M237.1 370.3h0M232 379.9h0M237.1 388.1h0M87.9 381.1h0M324.8 388.1h0M134 395.7h0M158.1 398.7h0M256.9 398.4h0M287.7 395.9h0M487 250.8h0M465 308.8h0M428.9 328.4h0M428.9 334.7h0M426.1 356.8h0M465.3 370.9h0M532.6 373.5h0M393.1 387.8h0M426.1 396.8h0M246.9 116h0M110 206.3h0M133.2 245.2h0M155 257h0" stroke="#add8e6" stroke-width="6" stroke-linecap="round" fill="none"/>
<path d="M47.6 30.5V600.1H636.2" stroke="#000" stroke-width="1.45" fill="none"/>
<path d="M47.6 574.5h-3.6M47.6 488.1h-3.6M47.6 401.7h-3.6M47.6 315.3h-3.6M47.6 228.9h-3.6M47.6 142.5h-3.6M47.6 56.1h-3.6M80.1 600.1v3.6M97.6 600.1v3.6M120 600.1v3.6M146.2 600.1v3.6M175.2 600.1v3.6M207.2 600.1v3.6M239.8 600.1v3.6M273 600.1v3.6M307.2 600.1v3.6M343.5 600.1v3.6M386.7 600.1v3.6M436.5 600.1v3.6M497.4 600.1v3.6M569.8 600.1v3.6" stroke="#000" stroke-width="1.45" fill="none"/>
<g font-size="15.2" text-anchor="end" stroke="#000" stroke-width="0.25">
<text transform="translate(41 580.2) scale(1 1.04)">0</text>
<text transform="translate(41 493.8) scale(1 1.04)">2</text>
<text transform="translate(41 407.4) scale(1 1.04)">4</text>
<text transform="translate(41 321) scale(1 1.04)">6</text>
<text transform="translate(41 234.6) scale(1 1.04)">8</text>
<text transform="translate(41 148.2) scale(1 1.04)">10</text>
<text transform="translate(41 61.8) scale(1 1.04)">12</text>
</g>
<g font-size="15.2" text-anchor="middle" stroke="#000" stroke-width="0.25">
<text transform="translate(80.1 616.9) scale(1 1.04)">1</text>
<text transform="translate(97.6 616.9) scale(1 1.04)">2</text>
<text transform="translate(120 616.9) scale(1 1.04)">3</text>
<text transform="translate(146.2 616.9) scale(1 1.04)">4</text>
<text transform="translate(175.2 616.9) scale(1 1.04)">5</text>
<text transform="translate(207.2 616.9) scale(1 1.04)">6</text>
<text transform="translate(239.8 616.9) scale(1 1.04)">7</text>
<text transform="translate(273 616.9) scale(1 1.04)">8</text>
<text transform="translate(307.2 616.9) scale(1 1.04)">9</text>
<text transform="translate(343.5 616.9) scale(1 1.04)">10</text>
<text transform="translate(386.7 616.9) scale(1 1.04)">11</text>
<text transform="translate(436.5 616.9) scale(1 1.04)">12</text>
<text transform="translate(497.4 616.9) scale(1 1.04)">13</text>
<text transform="translate(569.8 616.9) scale(1 1.04)">14</text>
</g>
<g font-size="10.9" text-anchor="middle">
<rect x="136.5" y="299.4" width="96.0" height="20.8" rx="3" fill="#fff" stroke="#1c1c1c" stroke-width="0.9"/>
<text transform="translate(184.5 313.9) scale(1 1.04)" fill="#111">PF3D7_0425100</text>
<rect x="96.9" y="312.7" width="30.8" height="20.8" rx="3" fill="#fff" stroke="#1c1c1c" stroke-width="0.9"/>
<text transform="translate(112.3 327.2) scale(1 1.04)" fill="#111">RIF</text>
<rect x="66.5" y="345.5" width="96.1" height="21.1" rx="3" fill="#fff" stroke="#1c1c1c" stroke-width="0.9"/>
<text transform="translate(114.5 360.2) scale(1 1.04)" fill="#111">PF3D7_0212100</text>
<rect x="435.8" y="281.5" width="62.8" height="20.2" rx="3" fill="#fff" stroke="#1c1c1c" stroke-width="0.9"/>
<text transform="translate(467.2 295.7) scale(1 1.04)" fill="#111">SURF13.1</text>
<rect x="386.4" y="330.2" width="36.5" height="21.3" rx="3" fill="#fff" stroke="#1c1c1c" stroke-width="0.9"/>
<text transform="translate(404.6 345.0) scale(1 1.04)" fill="#111">VAR</text>
<rect x="382.9" y="362.9" width="52.6" height="20.7" rx="3" fill="#fff" stroke="#1c1c1c" stroke-width="0.9"/>
<text transform="translate(409.2 377.4) scale(1 1.04)" fill="#111">CelTOS</text>
</g>
<text transform="translate(-1.2 28.2) scale(1 1.04)" font-size="26.0" text-anchor="start" font-weight="bold" stroke="#000" stroke-width="0.4">A</text>
<text transform="translate(341.4 16.8) scale(1 1.08)" font-size="22.3" text-anchor="middle" stroke="#000" stroke-width="0.35"><tspan font-style="italic">iHS</tspan> Mali 2019-2020</text>
<text transform="translate(341.6 634.1) scale(1 0.96)" font-size="15.4" text-anchor="middle" stroke="#000" stroke-width="0.3">Chromosome</text>
<text transform="translate(14.5 315.6) rotate(-90) scale(1 1.0)" font-size="15.8" text-anchor="middle" word-spacing="-0.9" stroke="#000" stroke-width="0.25">-log<tspan font-size="10.6" dy="2.7">10</tspan><tspan dy="-2.7">[1 - 2 | </tspan><tspan font-style="italic">Φ</tspan><tspan font-size="12.4" font-style="italic" letter-spacing="0.7" dy="2.7">iHS</tspan><tspan dy="-2.7" dx="-2.5"> - 0.5|]</tspan></text>
</g>
<g id="panel-B">
<path d="M728.9 579.1V558.4H739.3V579.1ZM738.7 579.1V558.1H747V579.1Z" fill="#000"/>
<path d="M732.2 559.3h0M732.8 558.9h0M736.2 557.2h0M734.6 554.3h0M732 555.8h0M733.4 552.6h0M736.7 549.7h0M744.3 519.4h0M743.6 521.3h0M743.1 522.7h0M743.8 524.7h0M745.1 526.5h0M744.3 528.6h0M743.1 530.3h0M743.3 532.1h0M745.4 534.1h0M743.4 536.3h0M744.9 538.7h0M745.2 541h0M744.9 543.3h0M745.4 545.2h0M743.4 547.7h0M744.7 550h0M744.3 552h0M745.2 554h0M745 556h0M745.1 557.8h0M732.2 548.5h0M736.7 541.7h0M743.6 517.4h0M742.8 526.5h0" stroke="#000" stroke-width="5.5" stroke-linecap="round" fill="none"/>
<path d="M744 579.1V550.8H762.9V579.1ZM762.3 579.1V550.5H765.9V579.1Z" fill="#bebebe"/>
<path d="M746.7 550.4h0M749.9 550.2h0M751.4 550.9h0M753.9 549.5h0M756.1 551.7h0M758.9 550.3h0M754.5 548.7h0M749.2 546.3h0M759.4 544.7h0M747.3 541.6h0M756.5 540h0M749 542.8h0M747.1 544.3h0M750.1 549.5h0M758.6 550.4h0M753.6 541h0M749.7 549.6h0M758.6 547.4h0M763.6 530.8h0M762.7 532.2h0M763.5 533.8h0M764.2 535.3h0M763.6 536.7h0M762.5 538.2h0M762.2 540.5h0M763.5 542.2h0M762 544h0M762.2 546.6h0M762.7 548.1h0M763.6 550.2h0M762.7 551.7h0M765.6 497.8h0M764.9 518.9h0M747.4 543.2h0" stroke="#bebebe" stroke-width="5.5" stroke-linecap="round" fill="none"/>
<path d="M765.4 579.1V547.5H772V579.1ZM771.4 579.1V547.8H781.1V579.1ZM780.5 579.1V556.9H790.2V579.1Z" fill="#000"/>
<path d="M768.2 527.7h0M768.9 530h0M769 532.5h0M768.8 535h0M767.8 536.9h0M767.9 539.1h0M768.2 540.6h0M767.8 543.1h0M768.1 545.2h0M767.8 547.2h0M774.2 547.5h0M776.1 547.4h0M774.2 547.7h0M774.7 547.6h0M776.9 544.9h0M784.1 557.7h0M786.2 556.1h0M785.8 552.3h0M786.8 551.3h0M784.3 554.3h0M785.5 556.9h0M769 513.4h0M769 519.8h0M777.8 536.4h0M790.4 535.2h0M789.9 547.8h0" stroke="#000" stroke-width="5.5" stroke-linecap="round" fill="none"/>
<path d="M790 579.1V549.3H812.3V579.1ZM811.7 579.1V549H819.9V579.1Z" fill="#bebebe"/>
<path d="M792.4 548.4h0M794.8 547.9h0M795.9 547.8h0M798.2 548.6h0M800.4 547.8h0M803.6 549.4h0M805.3 549h0M806.8 548.8h0M808.3 549.7h0M801.3 535.6h0M802.9 546.9h0M809.4 545.8h0M792.6 540.5h0M794 546.7h0M806.9 540.8h0M792.5 544.6h0M799.4 544.1h0M795.9 542.3h0M793.5 547h0M798.8 535.3h0M793.6 539.1h0M795.6 542.6h0M799.1 544.4h0M805.4 545.5h0M794.4 548.6h0M793.7 537.2h0M803.5 534.7h0M804.4 549.2h0M803.8 538.7h0M817.6 495.8h0M816.8 497.8h0M817.8 499.7h0M817.2 501.5h0M818.2 503.4h0M818.1 505.8h0M816.6 508.2h0M817.1 509.9h0M816.9 511.6h0M818.1 513.8h0M817.9 515.9h0M816.8 517.4h0M816.3 520h0M816.1 521.9h0M818 523.4h0M817.5 526h0M816.6 527.6h0M817.5 529.2h0M817 531.5h0M816.2 533.5h0M818.2 535.5h0M816.1 537.8h0M817.6 539.9h0M818 541.6h0M817.6 543.5h0M818.3 545.4h0M817.3 547.8h0M817 549.3h0M817.3 550.8h0M804.8 485.6h0M814.3 489.7h0M814.3 496.6h0M818.1 498.1h0M814.3 502.3h0M817.3 506.9h0M814.3 509.9h0M817.3 511.5h0M814.3 516h0M803.6 519.5h0M804.8 527.4h0M809.7 535.6h0M796 540.2h0" stroke="#bebebe" stroke-width="5.5" stroke-linecap="round" fill="none"/>
<path d="M816.9 579.1V552H823.7V579.1ZM823.1 579.1V552.3H845V579.1ZM844.4 579.1V552H852.3V579.1Z" fill="#000"/>
<path d="M819.2 538.4h0M819.8 540.4h0M820.4 542.3h0M820.3 544.8h0M821 546.8h0M820.4 548.5h0M820.5 550.7h0M819.2 553.2h0M826 552.3h0M829.3 550.2h0M831.6 553h0M834.2 550.2h0M837.1 552.1h0M840.1 550.5h0M838.5 551.4h0M838.1 547.4h0M828.9 544.5h0M828 547.1h0M832.9 550.9h0M835.1 548.9h0M829.1 541.9h0M826.9 552.3h0M833.8 544h0M836.7 545.2h0M833.8 546.3h0M831.3 550.8h0M834.1 552.3h0M827 545.2h0M848.7 542.9h0M850.2 545.2h0M849.9 547.1h0M850.4 549.5h0M848.7 551h0M849.4 552.9h0M819.6 513.7h0M819.6 517.5h0M820 522.1h0M819.6 529.7h0M819.6 534.3h0M849.5 485.3h0M850.3 502.3h0M850.3 506.1h0M850.3 510.7h0M849.2 519.1h0M846.2 526.7h0M846.2 531.2h0M819.6 529.5h0M819.6 534.1h0M821.9 540.2h0M834.8 539.4h0M840.1 544h0M829.5 547.8h0M846.2 525.7h0M846.2 530.3h0M847 540.9h0" stroke="#000" stroke-width="5.5" stroke-linecap="round" fill="none"/>
<path d="M849.3 579.1V561.2H857.1V579.1ZM856.5 579.1V561.5H879.2V579.1ZM878.6 579.1V561.2H884.8V579.1Z" fill="#bebebe"/>
<path d="M851.6 523.2h0M853.4 525.2h0M852.3 527.1h0M852.1 528.9h0M851.8 531.4h0M852.2 533.5h0M853.2 535.6h0M853 537.1h0M852.6 538.9h0M852.6 541.2h0M853.1 543.1h0M852.6 544.6h0M852.3 546.5h0M853 548.9h0M851.8 551h0M852.1 552.7h0M851.7 554.4h0M851.6 556.9h0M852 559.3h0M851.8 561.2h0M852.1 562.7h0M859.5 560.2h0M862.9 560.7h0M865.5 560.3h0M866.4 559.9h0M869.1 560.4h0M871.6 561.9h0M874.3 561.9h0M874.5 553.1h0M867.9 556.1h0M875.7 555.4h0M872.3 553.8h0M875.5 555.3h0M876.3 560h0M870 556.3h0M865.5 559.1h0M862.2 552.6h0M865.3 558.4h0M874.8 560.7h0M875.9 561h0M880.9 495.8h0M881.7 497.6h0M882.9 500.1h0M881.8 502.4h0M881.4 504.5h0M881.7 506.9h0M882.3 508.6h0M881.6 510.2h0M881 512.7h0M881.3 514.3h0M881.8 516h0M881.6 517.7h0M881.4 519.4h0M881.6 521.5h0M882.6 523.4h0M881.1 524.8h0M881.8 527.3h0M881.1 529.6h0M882.8 531.6h0M882.6 533.4h0M881.7 535.6h0M881.7 538.2h0M882.3 540.1h0M882.8 541.9h0M882.2 544h0M883.2 546.1h0M882.8 548.7h0M881.8 550.6h0M880.9 552.6h0M883.2 554.2h0M883 555.7h0M883 557.9h0M881.5 559.4h0M880.8 561.8h0M852 484.5h0M852 513h0M852 522.9h0M853.8 528.9h0M868.2 487.6h0M881.9 485.6h0M881.9 489.4h0M881.9 493.2h0M881.9 497h0M881.9 503.9h0M881.9 508.4h0M881.9 513h0M881.9 517.5h0M881.9 522.9h0M881.9 527.4h0M881.9 532h0M852 512.8h0M868.2 545.5h0" stroke="#bebebe" stroke-width="5.5" stroke-linecap="round" fill="none"/>
<path d="M881.8 579.1V552.3H889.1V579.1ZM888.5 579.1V544.7H893.6V579.1ZM893 579.1V553.6H901.2V579.1ZM900.6 579.1V553.9H916.1V579.1Z" fill="#000"/>
<path d="M884.4 550.7h0M885.7 552.2h0M886.4 549h0M891.1 544.4h0M891.1 544.7h0M898.1 524.7h0M897.1 526.4h0M896.3 528.4h0M896.1 530.4h0M898.1 532.1h0M897.2 534.5h0M898 536.7h0M897.1 538.3h0M896.2 539.8h0M896.4 541.3h0M896.4 542.8h0M897.4 544.7h0M898.1 547.1h0M897.1 549.4h0M896.3 551.9h0M897.9 553.4h0M896.4 555.5h0M903.4 553h0M905.8 554.2h0M908.7 553.2h0M910.9 554.8h0M912.8 553.9h0M903.5 549.4h0M905.3 552.9h0M909.2 548.2h0M909.7 546.9h0M910.5 550.3h0M903.7 546.4h0M911.7 545.5h0M909.4 553.8h0M905.2 553.5h0M909.8 549.5h0M897.1 484.1h0M897.1 490.2h0M897.1 493.2h0M897.1 505.4h0M897.1 509.9h0M897.1 514.5h0M897.1 518.3h0M897.1 523.6h0M897.1 527.4h0M894.9 531.2h0M900.9 534.3h0M897.1 514.3h0M897.1 518.9h0M902.5 535.2h0M904.7 542.5h0M913.1 541.7h0M908.5 546.3h0M891.8 535.6h0" stroke="#000" stroke-width="5.5" stroke-linecap="round" fill="none"/>
<path d="M915.8 579.1V552.3H950.5V579.1Z" fill="#bebebe"/>
<path d="M918.2 553.2h0M922 551.6h0M923.2 552.8h0M925.9 553h0M928.4 551.5h0M931.1 552.3h0M933.2 551h0M935.5 551.2h0M938 551.8h0M940.7 552.6h0M944 551.6h0M945.7 551.7h0M923.8 548.3h0M923.8 548.3h0M935.2 550.2h0M923.2 546.5h0M943.8 551h0M936.5 545.7h0M944.5 545.3h0M927.3 551.2h0M943.1 550.3h0M918.5 542.2h0M924 550.2h0M927.6 550.7h0M939.7 549.8h0M931.2 549h0M943 552.3h0M935.4 551.8h0M922.6 546.5h0M929.3 552.1h0M918.1 506.9h0M918.1 511.5h0M926.8 506.6h0M949.3 505.8h0M918.1 521.3h0M918.1 521.2h0M926.8 535.9h0M918.1 539h0M948.8 539.4h0" stroke="#bebebe" stroke-width="5.5" stroke-linecap="round" fill="none"/>
<path d="M950.2 579.1V552.3H960.5V579.1ZM959.9 579.1V544.7H975.7V579.1ZM975.1 579.1V546.3H984.6V579.1Z" fill="#000"/>
<path d="M953.1 553.1h0M955.4 552.7h0M953.3 551.1h0M957.8 545.3h0M953.6 547.7h0M963.4 544.4h0M965.6 543.3h0M966.9 544.7h0M969.4 543.8h0M972 543.8h0M966.5 543.8h0M964.9 541.1h0M971.2 544.5h0M972.6 539.5h0M963.1 539.1h0M966.8 541.3h0M963.6 541.3h0M968 538.2h0M968.7 539.2h0M970.3 543.8h0M977.6 545.6h0M979.5 545.1h0M980.3 542.9h0M981.8 546.1h0M962.5 518.6h0M969.4 519.1h0M970.1 522.9h0M968.6 532.7h0M961.8 535.6h0M970.9 543.2h0M980 543.2h0" stroke="#000" stroke-width="5.5" stroke-linecap="round" fill="none"/>
<path d="M984.3 579.1V561.2H990.2V579.1ZM989.6 579.1V561.5H1003.1V579.1ZM1002.5 579.1V550.8H1017.5V579.1ZM1016.9 579.1V550.5H1023.9V579.1Z" fill="#bebebe"/>
<path d="M987.4 527.7h0M987.7 529.2h0M986.6 531.1h0M987.6 532.9h0M988.3 534.9h0M986.9 536.7h0M987.5 539.2h0M987.9 540.8h0M988.3 542.6h0M988 544.8h0M987.3 547.2h0M986.6 549.8h0M988.1 551.6h0M987.7 553h0M987.8 555.6h0M986.6 558h0M987.5 560.1h0M987.1 562h0M992.2 559.4h0M995.6 561.9h0M997.4 562.2h0M999 561.8h0M995.5 550.7h0M993.1 555.7h0M992.7 560.1h0M993.7 561.5h0M995.5 557.1h0M994.5 554.9h0M992.6 556.8h0M996.6 558.3h0M999.8 560.9h0M995.7 557.6h0M1005.4 551.7h0M1008 550h0M1010.7 551.2h0M1012.3 550.5h0M1014.3 548.7h0M1014.8 544.5h0M1010.7 549.3h0M1009.5 546.9h0M1009.3 549.1h0M1007.2 542.7h0M1014.5 541.6h0M1011.2 550.8h0M1008.1 541.2h0M1014.7 545.8h0M1010.7 543.7h0M1007.5 543.3h0M1008.7 541.1h0M1020.3 492.8h0M1020.6 494.9h0M1020.3 497h0M1021.1 499.5h0M1020.5 501.4h0M1021 503.9h0M1021.5 506.1h0M1020.7 507.6h0M1020.3 509.8h0M1021.6 512.3h0M1020.7 514.2h0M1020.9 516.5h0M1021.2 518.4h0M1019.6 520.2h0M1020.8 522.4h0M1020.4 524.3h0M1021.2 526.9h0M1021.4 528.7h0M1020.2 530.8h0M1021.1 533h0M1020.8 535.5h0M1020.2 537.7h0M1020.3 539.1h0M1021.5 540.7h0M1020.7 542.5h0M1019.7 544.8h0M1020 547.2h0M1020.7 548.7h0M1021.4 550.6h0M1019.5 552.5h0M986.8 525.1h0M987.6 529.7h0M987.6 533.5h0M1007.4 532.7h0M1019.2 485.6h0M1019.2 489.4h0M1019.2 493.2h0M1019.2 497h0M1019.2 500.8h0M1019.2 505.4h0M1019.2 509.9h0M1019.2 514.5h0M1019.2 519.1h0M1019.2 523.6h0M1019.2 528.2h0M1019.2 532.7h0M1007.4 531.1h0M1008.1 534.9h0M996 553.1h0M1020.3 487.1h0M1020.3 491.7h0M1021.4 498.5h0M1020.3 502.3h0M1020.3 506.9h0M1023.7 514.5h0M1020.3 519.1h0M1020.3 523.6h0M1020.3 528.2h0M1020.3 532.7h0M1013 540.2h0M1011.5 532.6h0" stroke="#bebebe" stroke-width="5.5" stroke-linecap="round" fill="none"/>
<path d="M1023.7 579.1V546.3H1036.1V579.1ZM1035.5 579.1V559.9H1053.6V579.1ZM1053 579.1V559.6H1059V579.1ZM1058.4 579.1V559.9H1065V579.1ZM1064.4 579.1V559.6H1072.3V579.1Z" fill="#000"/>
<path d="M1026 545.6h0M1028.5 545.1h0M1031.8 547.2h0M1030.8 543.5h0M1027.7 543.2h0M1027.2 545.2h0M1039 559.6h0M1041.2 558.6h0M1043.6 558.5h0M1046.9 558.3h0M1048.6 560.1h0M1050.3 558.5h0M1045.7 557.1h0M1040.2 557.9h0M1044.2 558.2h0M1040.4 559.3h0M1047.2 552.9h0M1049.1 556.1h0M1048.4 559.6h0M1055.3 546h0M1054.8 548.2h0M1056.7 549.7h0M1055.2 551.3h0M1056.8 553.2h0M1056.9 554.6h0M1056.2 556.4h0M1055.1 558.4h0M1055.2 560.9h0M1061.9 559.2h0M1061 559.6h0M1061.7 559.8h0M1070.2 549h0M1070.2 551h0M1068.3 552.8h0M1068.8 555.3h0M1068.6 557.2h0M1069.4 559.3h0M1068.4 560.9h0M1026.4 509.6h0M1026.7 523.6h0M1026.4 533.5h0M1072 519.1h0M1067.5 525.4h0M1071.6 532h0M1026.7 523.4h0M1026.7 526.5h0M1026.7 533.8h0M1067.8 538.7h0M1048 552.3h0" stroke="#000" stroke-width="5.5" stroke-linecap="round" fill="none"/>
<path d="M1072 579.1V555.8H1077.2V579.1ZM1076.6 579.1V556.1H1101.5V579.1ZM1100.9 579.1V559.2H1126.3V579.1Z" fill="#bebebe"/>
<path d="M1075.7 499.6h0M1074.3 501.2h0M1075.3 503.3h0M1075.3 505.7h0M1074.3 508.1h0M1074.3 510.6h0M1074.3 512.2h0M1075 514.5h0M1076.1 517h0M1075.3 519.5h0M1076.1 521.4h0M1074.3 523.6h0M1074.3 525.7h0M1075.3 527.1h0M1075.9 529.4h0M1074.3 531.7h0M1076.1 534h0M1074.9 536.2h0M1074.3 537.9h0M1076.1 540.1h0M1075.8 541.6h0M1074.6 544.1h0M1074.3 546.5h0M1075.1 548.3h0M1075.1 550.7h0M1076 552.2h0M1075.7 554.3h0M1074.6 556h0M1074.3 557.5h0M1079.5 556.1h0M1082.2 556.9h0M1084.7 554.5h0M1088.1 554.1h0M1090.3 555.3h0M1092.8 554.8h0M1095.9 554.2h0M1098.5 554.5h0M1091.5 544.2h0M1089.8 552.6h0M1089.1 553.8h0M1088.2 551h0M1081.3 553.9h0M1086 551.2h0M1090.3 543.2h0M1084.3 547.9h0M1085.8 554h0M1081.9 537.3h0M1097.6 541h0M1082.6 555h0M1081.2 552.8h0M1087.6 556.1h0M1087.5 544.7h0M1095.7 554.5h0M1079.2 541.9h0M1086.7 552.6h0M1082.2 553.4h0M1084.4 553.5h0M1083.8 548.7h0M1095.3 552.7h0M1087.4 549.4h0M1095.8 542.7h0M1098.7 554.7h0M1095.1 552.9h0M1090.6 548.5h0M1090.5 552.5h0M1080.6 556.1h0M1097.5 539.4h0M1088.3 555.6h0M1095.8 549h0M1088.5 545.9h0M1082.3 554.1h0M1095.3 543.5h0M1098.7 550.4h0M1098.4 539.3h0M1089.2 539.2h0M1103.6 557.2h0M1106.3 558.6h0M1109.6 557.7h0M1111.5 558.8h0M1115 558h0M1118.2 559.5h0M1121.3 558.8h0M1113.7 556.6h0M1109.1 556.5h0M1104 549.4h0M1111.6 541.8h0M1104.5 545.3h0M1107.4 555.5h0M1109.4 540.4h0M1116.6 552.8h0M1107.2 559h0M1110.9 539.9h0M1112.5 548.1h0M1121.3 559h0M1110 553.8h0M1108.1 554.4h0M1117.3 558.2h0M1117.6 555.9h0M1116.8 557.7h0M1119.5 553.7h0M1120.4 540.1h0M1115.3 559.1h0M1110.9 539.8h0M1116.7 545.9h0M1113.1 540.9h0M1121.9 549.6h0M1115.4 558.5h0M1103.6 557.3h0M1118.1 543.5h0M1119.1 542.4h0M1104.1 559.1h0M1108.7 559.1h0M1115.4 541.2h0M1121.7 558.5h0M1116.9 548.2h0M1116.8 553.9h0M1074.6 485.6h0M1074.6 498.5h0M1074.6 502.3h0M1074.6 506.9h0M1074.6 511.5h0M1074.6 522.1h0M1074.6 526.7h0M1074.6 531.2h0M1089.1 514.5h0M1092.9 518.3h0M1089.1 522.1h0M1092.1 532h0M1114.9 515.3h0M1115.7 525.1h0M1113.4 534.3h0M1089.1 535.6h0M1084.5 543.2h0M1092.1 543.2h0M1096.7 547.8h0M1108.8 537.9h0M1110.3 547.8h0M1107.3 550.8h0M1119.5 550.8h0" stroke="#bebebe" stroke-width="5.5" stroke-linecap="round" fill="none"/>
<path d="M1126 579.1V556.6H1131.9V579.1ZM1131.3 579.1V556.9H1153.2V579.1ZM1152.6 579.1V552.3H1192V579.1ZM1191.4 579.1V552H1196.5V579.1Z" fill="#000"/>
<path d="M1128.3 532.3h0M1129.9 534.7h0M1129.1 537h0M1128.4 538.4h0M1128.3 540.1h0M1129.4 541.8h0M1128.3 544h0M1128.3 546.5h0M1129.2 549h0M1128.4 551.2h0M1129.9 553.4h0M1128.3 555.1h0M1128.4 557.4h0M1134.4 555.3h0M1136 555h0M1139.1 556.8h0M1141.4 557.8h0M1143.5 555.7h0M1145.7 556.8h0M1148 557.8h0M1150.6 554.7h0M1144.7 556.7h0M1142.9 552.8h0M1137.8 553h0M1136.1 554.4h0M1144.1 554.3h0M1136.4 556.3h0M1155.5 552.2h0M1157.5 551.2h0M1159.5 552h0M1162 550.2h0M1164.5 550.5h0M1167.4 553.1h0M1169.4 552.8h0M1170.9 550.5h0M1173.9 552.2h0M1177 552.5h0M1179 553.1h0M1180.8 552.4h0M1183.7 551h0M1186.7 552.6h0M1188.6 550.4h0M1156.2 552.3h0M1158.7 545.8h0M1188.9 548.4h0M1177.3 546.8h0M1184 540.4h0M1183.2 550h0M1157.6 541.8h0M1164.7 544.1h0M1184.8 551.5h0M1161.8 548.9h0M1184.1 542.5h0M1189.2 550.6h0M1176.5 542.2h0M1168.1 546.7h0M1162.9 542.5h0M1170.3 548.1h0M1177.7 550.1h0M1183 548.5h0M1169.9 544.6h0M1178 544.9h0M1185.2 543.3h0M1169.1 545.9h0M1184.8 552.2h0M1177.8 547.6h0M1169 551.8h0M1165 544.3h0M1185.5 540.1h0M1181 542.1h0M1183.5 551.5h0M1178.8 542.2h0M1180.9 550.5h0M1179.2 549.3h0M1170 544.6h0M1178.3 551.7h0M1177.1 552.2h0M1162.3 543h0M1186.5 550.8h0M1194.2 544.4h0M1193.6 546.1h0M1192.6 547.9h0M1193.7 549.8h0M1192.6 552.2h0M1192.4 554h0M1128.9 488.7h0M1128.9 497.5h0M1128.9 507.7h0M1128.9 511.5h0M1128.9 515.3h0M1128.9 519.1h0M1128.9 522.9h0M1128.9 532h0M1128.9 535.8h0M1193.5 505.4h0M1193.5 515.6h0M1185.6 523.2h0M1162 528.2h0M1173.4 528.2h0M1194 533.5h0M1128.9 509.8h0M1128.9 514.3h0M1128.9 518.9h0M1128.9 522.7h0M1160.5 537.9h0M1169.6 537.1h0M1173.4 540.9h0M1180.3 541.7h0M1139.2 543.2h0M1194 541.7h0M1185.6 549.3h0M1169.6 547h0" stroke="#000" stroke-width="5.5" stroke-linecap="round" fill="none"/>
<path d="M1193.4 579.1V558.4H1200.4V579.1ZM1199.8 579.1V558.1H1204.9V579.1ZM1204.3 579.1V558.4H1270.3V579.1ZM1269.7 579.1V558.1H1276.8V579.1Z" fill="#bebebe"/>
<path d="M1195.9 558.9h0M1196.1 556.3h0M1202.4 545.2h0M1203.4 547.2h0M1201.2 549.7h0M1202.4 551.6h0M1202.4 553.8h0M1201.4 556.2h0M1203.1 558.1h0M1201.6 559.7h0M1206.9 558h0M1208.8 557.3h0M1212 558.2h0M1214.2 559.4h0M1216.9 556.4h0M1218.8 559.3h0M1220.8 558.8h0M1223.3 556.8h0M1225.2 557.8h0M1227.6 558.1h0M1229.3 557.9h0M1231.2 558.8h0M1233.8 558.4h0M1236.1 557.3h0M1237.8 558.6h0M1240.5 557.5h0M1242.3 559h0M1244.5 559.3h0M1245.6 556.7h0M1248.3 559.3h0M1250.9 557.4h0M1253.1 556.6h0M1255.6 559.2h0M1258.3 557.8h0M1261.3 557.1h0M1263.4 558.1h0M1265.6 557.5h0M1267.4 553.2h0M1213.4 555h0M1253.5 550.6h0M1211.8 554.7h0M1234.4 547.6h0M1223.1 546.2h0M1256.4 558.4h0M1237.2 553h0M1245.3 546.7h0M1219.1 547.9h0M1207.4 547.8h0M1222.8 558.4h0M1256.4 545.1h0M1246.9 548.8h0M1231 556.7h0M1247.3 548.3h0M1223.2 555.2h0M1223.3 556.5h0M1259.6 558.4h0M1208.2 557.3h0M1254.6 552.4h0M1253 550.3h0M1260.9 552.1h0M1208.2 558h0M1231.9 557.9h0M1225.7 556.4h0M1266.7 545.2h0M1247.8 554.6h0M1232 558.2h0M1234.4 557.7h0M1239.3 548.1h0M1231.3 550.1h0M1256.5 546.2h0M1232.9 556.8h0M1261 553.5h0M1223.5 550.5h0M1259.4 544.8h0M1229.8 556.5h0M1222.1 556.2h0M1220.1 546.1h0M1245.5 558.3h0M1212.6 557.3h0M1265.8 555.6h0M1256 556.9h0M1218.8 545.6h0M1211.5 553.5h0M1239.1 555.7h0M1273.9 532.3h0M1272.6 534.7h0M1273.2 536.5h0M1273.6 538.4h0M1272.9 540.8h0M1273.2 543.3h0M1273.1 544.7h0M1272.5 546.8h0M1273.5 549.2h0M1272.7 551.3h0M1272.7 552.8h0M1273.7 555h0M1272.1 557.2h0M1273.7 559.5h0M1273.3 489.4h0M1273.3 518.8h0M1273.3 525.9h0M1273.3 532h0M1244.1 532h0M1273 525.7h0M1211.5 542.5h0M1207.7 547h0M1218.3 548.5h0M1244.1 536.4h0M1237.3 540.9h0M1238.1 547h0M1244.1 546.3h0M1263.9 536.4h0M1263.9 540.2h0M1253.3 552.3h0" stroke="#bebebe" stroke-width="5.5" stroke-linecap="round" fill="none"/>
<path d="M706.05 483.75H1302.7" stroke="#f00" stroke-width="1.1" fill="none"/>
<path d="M894.9 82h0M1070.7 277.1h0M804.9 302.6h0M817 298.7h0M814 322.1h0M897 351.9h0M1019.6 350.7h0M804.9 359.2h0M804.5 377.7h0M814 401.8h0M803.9 406.6h0M803.9 409.7h0M817 412.7h0M1114.5 405.7h0M1019.6 417.9h0M1024.1 420.3h0M868.1 431h0M917.7 409.8h0M917.7 413.3h0M917.7 417.1h0M766.1 456.4h0M766.1 468.9h0M767.1 472.7h0M769 476h0M804.4 455.2h0M803.6 464.3h0M805.1 468.1h0M814.3 467.7h0M804.8 479.2h0M851.8 447.1h0M852 469.6h0M852 472.7h0M852 476.5h0M852 480.3h0M897.1 476.5h0M918 436.2h0M918 440h0M918 443h0M918 446.8h0M918 459h0M918 469.6h0M918 479.8h0M1019.2 456.7h0M1019.2 460.5h0M1019.2 464.3h0M1026.7 450.2h0M1020.3 456h0M1020.3 459.8h0M1020.3 463.6h0M1024.4 465.1h0M1024 468.9h0M1024 472.7h0M1024.4 478h0M1026.7 482.6h0M1071.9 457.9h0M1073.6 482.9h0M1128.9 456.7h0M1128.9 460.5h0M1128.9 470.9h0M1128.9 479.8h0M1273.3 481.8h0" stroke="#f00" stroke-width="6" stroke-linecap="round" fill="none"/>
<path d="M706 29.8V602.9H1301.8" stroke="#000" stroke-width="2.0" fill="none"/>
<path d="M706 576.9h-3.9M706 539.6h-3.9M706 502.4h-3.9M706 465.1h-3.9M706 427.9h-3.9M706 390.6h-3.9M706 353.3h-3.9M706 316.1h-3.9M706 278.8h-3.9M706 241.6h-3.9M706 204.3h-3.9M706 167h-3.9M706 129.8h-3.9M706 92.5h-3.9M706 55.3h-3.9M738.9 602.9v3.9M756.9 602.9v3.9M779.2 602.9v3.9M806 602.9v3.9M835.5 602.9v3.9M867.7 602.9v3.9M900.4 602.9v3.9M933.8 602.9v3.9M969.2 602.9v3.9M1005.8 602.9v3.9M1049.7 602.9v3.9M1100.3 602.9v3.9M1161.7 602.9v3.9M1235.5 602.9v3.9" stroke="#000" stroke-width="2.0" fill="none"/>
<g font-size="15.3" text-anchor="end" stroke="#000" stroke-width="0.4">
<text transform="translate(699.4 582.8) scale(1 1.04)">0</text>
<text transform="translate(699.4 545.5) scale(1 1.04)">2</text>
<text transform="translate(699.4 508.3) scale(1 1.04)">4</text>
<text transform="translate(699.4 471) scale(1 1.04)">6</text>
<text transform="translate(699.4 433.8) scale(1 1.04)">8</text>
<text transform="translate(699.4 396.5) scale(1 1.04)">10</text>
<text transform="translate(699.4 359.2) scale(1 1.04)">12</text>
<text transform="translate(699.4 322) scale(1 1.04)">14</text>
<text transform="translate(699.4 284.7) scale(1 1.04)">16</text>
<text transform="translate(699.4 247.5) scale(1 1.04)">18</text>
<text transform="translate(699.4 210.2) scale(1 1.04)">20</text>
<text transform="translate(699.4 172.9) scale(1 1.04)">22</text>
<text transform="translate(699.4 135.7) scale(1 1.04)">24</text>
<text transform="translate(699.4 98.4) scale(1 1.04)">26</text>
<text transform="translate(699.4 61.2) scale(1 1.04)">28</text>
</g>
<g font-size="15.3" text-anchor="middle" stroke="#000" stroke-width="0.4">
<text transform="translate(738.9 620.4) scale(1 1.04)">1</text>
<text transform="translate(756.9 620.4) scale(1 1.04)">2</text>
<text transform="translate(779.2 620.4) scale(1 1.04)">3</text>
<text transform="translate(806 620.4) scale(1 1.04)">4</text>
<text transform="translate(835.5 620.4) scale(1 1.04)">5</text>
<text transform="translate(867.7 620.4) scale(1 1.04)">6</text>
<text transform="translate(900.4 620.4) scale(1 1.04)">7</text>
<text transform="translate(933.8 620.4) scale(1 1.04)">8</text>
<text transform="translate(969.2 620.4) scale(1 1.04)">9</text>
<text transform="translate(1005.8 620.4) scale(1 1.04)">10</text>
<text transform="translate(1049.7 620.4) scale(1 1.04)">11</text>
<text transform="translate(1100.3 620.4) scale(1 1.04)">12</text>
<text transform="translate(1161.7 620.4) scale(1 1.04)">13</text>
<text transform="translate(1235.5 620.4) scale(1 1.04)">14</text>
</g>
<g font-size="11.0" text-anchor="middle">
<rect x="805.1" y="272.0" width="59.3" height="21.3" rx="3" fill="#fff" stroke="#1c1c1c" stroke-width="1.1"/>
<text transform="translate(834.8 286.8) scale(1 1.04)" fill="#111" stroke="#111" stroke-width="0.3">SURF4.2</text>
<rect x="734.4" y="429.3" width="98.1" height="21.0" rx="3" fill="#fff" stroke="#1c1c1c" stroke-width="1.1"/>
<text transform="translate(783.5 443.9) scale(1 1.04)" fill="#111" stroke="#111" stroke-width="0.3">PF3D7_0221900</text>
<rect x="905.8" y="382.9" width="59.3" height="21.3" rx="3" fill="#fff" stroke="#1c1c1c" stroke-width="1.1"/>
<text transform="translate(935.5 397.6) scale(1 1.04)" fill="#111" stroke="#111" stroke-width="0.3">SURF8.3</text>
<rect x="992.5" y="392.0" width="98.0" height="21.6" rx="3" fill="#fff" stroke="#1c1c1c" stroke-width="1.1"/>
<text transform="translate(1041.5 406.9) scale(1 1.04)" fill="#111" stroke="#111" stroke-width="0.3">PF3D7_1039600</text>
<rect x="1005.0" y="426.6" width="65.4" height="21.4" rx="3" fill="#fff" stroke="#1c1c1c" stroke-width="1.1"/>
<text transform="translate(1037.7 441.4) scale(1 1.04)" fill="#111" stroke="#111" stroke-width="0.3">DBLMSP2</text>
<rect x="1097.3" y="429.3" width="62.7" height="20.2" rx="3" fill="#fff" stroke="#1c1c1c" stroke-width="1.1"/>
<text transform="translate(1128.7 443.5) scale(1 1.04)" fill="#111" stroke="#111" stroke-width="0.3">SURF13.1</text>
<rect x="1202.3" y="468.4" width="65.4" height="21.0" rx="3" fill="#fff" stroke="#1c1c1c" stroke-width="1.1"/>
<text transform="translate(1235.0 483.0) scale(1 1.04)" fill="#111" stroke="#111" stroke-width="0.3">SURF14.1</text>
</g>
<text transform="translate(663.6 20.6) scale(0.86 1.03)" font-size="24.7" text-anchor="start" font-weight="bold" stroke="#000" stroke-width="0.5">B</text>
<text transform="translate(1010.0 16.8) scale(1 1.08)" font-size="22.3" text-anchor="middle" stroke="#000" stroke-width="0.4"><tspan font-style="italic">Rsb</tspan> Mali 2019-2020 vs. Mali 2007-2014</text>
<text transform="translate(1003.7 638.0) scale(1 1.0)" font-size="15.5" text-anchor="middle" stroke="#000" stroke-width="0.4">Chromosome</text>
<text transform="translate(672.3 316.3) rotate(-90) scale(1 1.0)" font-size="15.9" text-anchor="middle" stroke="#000" stroke-width="0.4">−<tspan dx="1.5">log</tspan><tspan font-size="10.6" dy="2.7">10</tspan><tspan dy="-2.7"> (</tspan><tspan font-style="italic">p</tspan>-value)</text>
</g>
<g id="panel-C">
<path d="M1401.1 579.1V554.3H1410.4V579.1ZM1409.8 579.1V555.1H1418V579.1Z" fill="#000"/>
<path d="M1403.5 553.8h0M1406.1 554.1h0M1403.4 542.1h0M1404.5 552.5h0M1407.8 549.2h0M1407.1 549.1h0M1406.2 553.4h0M1406.2 541.4h0M1405.7 544.1h0M1406.4 554h0M1406.7 547.1h0M1414.7 504.9h0M1416.1 506.4h0M1415.7 508.3h0M1415.7 510.8h0M1414.9 513.3h0M1415.1 515.6h0M1416.1 518.2h0M1414.3 519.7h0M1416.3 521.3h0M1415.5 523.3h0M1415.2 525h0M1414.8 526.9h0M1415.4 529h0M1415.6 531.5h0M1416.1 534h0M1415.6 536.6h0M1416.1 538.2h0M1416.2 540.7h0M1415.7 542.8h0M1416 544.5h0M1414.7 546.6h0M1416 548h0M1414.2 550.6h0M1415 553h0M1414.7 554.6h0M1416.1 556.9h0M1408.2 526.5h0M1407.5 531.8h0M1406 535.6h0M1405.2 544.7h0M1414.3 477.6h0M1414.3 484.4h0" stroke="#000" stroke-width="5.5" stroke-linecap="round" fill="none"/>
<path d="M1415 579.1V550.5H1424.5V579.1ZM1423.9 579.1V544.4H1430.6V579.1ZM1430 579.1V550.5H1434.4V579.1ZM1433.8 579.1V551.3H1439V579.1Z" fill="#bebebe"/>
<path d="M1417.9 548.4h0M1420.2 551.1h0M1419.6 542.2h0M1418.7 550.3h0M1420.1 550.4h0M1418.2 548.3h0M1420.1 550h0M1426.4 545h0M1428 538.6h0M1427.1 542.3h0M1427.3 540.9h0M1432.2 551.3h0M1432.2 546.7h0M1432.2 547h0M1436.4 519.4h0M1436.1 521.9h0M1436.6 523.8h0M1435.6 525.5h0M1436.2 528.1h0M1434.9 530.1h0M1436.3 532h0M1436.4 533.4h0M1435 535.6h0M1436 537.8h0M1435.8 540h0M1436.7 542.2h0M1435 543.6h0M1437.2 545.9h0M1436 547.6h0M1435.7 549.7h0M1435.7 551.5h0M1420.4 535.6h0M1428 533.3h0M1437.1 470.3h0M1437.1 473.3h0M1437.1 488.1h0" stroke="#bebebe" stroke-width="5.5" stroke-linecap="round" fill="none"/>
<path d="M1436.3 579.1V549H1443.5V579.1ZM1442.9 579.1V548.2H1459.5V579.1ZM1458.9 579.1V549H1464.8V579.1Z" fill="#000"/>
<path d="M1439.5 520.1h0M1439 521.9h0M1438.6 524.2h0M1439.8 526.3h0M1438.6 528.1h0M1438.6 530.4h0M1439.1 532h0M1438.6 534.3h0M1438.9 536.1h0M1439.1 538.5h0M1438.6 540.9h0M1439.6 542.7h0M1439.1 545.2h0M1438.6 546.8h0M1438.6 548.9h0M1446.4 546.6h0M1448.3 548.1h0M1450.5 546.4h0M1453 546.9h0M1454.7 547.3h0M1456 547.7h0M1445.5 540.6h0M1455.6 540h0M1450.4 540.5h0M1456.1 547.3h0M1454 541.8h0M1453.1 545.1h0M1448.8 546.5h0M1461.3 533.8h0M1462.2 535.3h0M1462.7 537h0M1462.9 538.5h0M1463 540.7h0M1462.9 543.2h0M1460.8 545.3h0M1461.2 547.6h0M1462.3 549.3h0M1440.2 495.3h0M1450.1 527.3h0M1448.5 535.6h0M1444.7 540.2h0M1462.2 513.6h0M1462.2 533.3h0" stroke="#000" stroke-width="5.5" stroke-linecap="round" fill="none"/>
<path d="M1462.3 579.1V548.2H1473.2V579.1ZM1472.6 579.1V549H1480V579.1ZM1479.4 579.1V542.1H1483.4V579.1ZM1482.8 579.1V542.9H1489.4V579.1Z" fill="#bebebe"/>
<path d="M1464.9 549h0M1467.3 546.8h0M1467.4 537.2h0M1466.7 546.8h0M1467.8 536.5h0M1465.6 537h0M1470.1 536.7h0M1469.5 548.2h0M1468.4 535.4h0M1464.9 546h0M1466.2 542.1h0M1467.1 543h0M1469.3 548.2h0M1464.9 547.5h0M1465.3 547.9h0M1470.5 535.6h0M1475.3 518.6h0M1475.8 520.6h0M1475.9 522.4h0M1476.5 524.6h0M1475.5 526.4h0M1475.4 528.2h0M1476.8 530.2h0M1475.3 532.1h0M1476 533.7h0M1477 535.8h0M1477 537.7h0M1476.1 539.8h0M1476.3 541.7h0M1476.1 543.9h0M1476.2 546.2h0M1476.4 547.9h0M1475.3 550.1h0M1481.4 542.9h0M1481.4 533.9h0M1481.4 517.7h0M1481.4 515.3h0M1481.4 535.3h0M1481.4 516.9h0M1481.4 521.3h0M1481.4 538.1h0M1481.4 532.8h0M1481.4 540.8h0M1487.3 512.5h0M1487.5 514.7h0M1487 517.1h0M1486.7 519.3h0M1486.8 520.9h0M1485.7 522.3h0M1485.5 524.6h0M1485.6 526.1h0M1485.8 528.6h0M1487.4 530h0M1487.4 531.5h0M1487.4 533.7h0M1486.8 536.3h0M1485.5 538.7h0M1486.6 541h0M1485.6 543.2h0M1475.4 502.9h0M1475.4 491.5h0M1475.9 514.3h0M1475.1 508.2h0M1485.8 493.8h0M1489.6 497.6h0M1487.3 509.8h0M1485.8 521.9h0M1487.3 503.7h0M1485 499.1h0M1475.9 470.3h0M1478.2 472.5h0M1487.3 470.3h0M1488.8 473.3h0M1476.7 480.1h0M1476.7 483.2h0M1476.7 487.7h0M1485 487.4h0" stroke="#bebebe" stroke-width="5.5" stroke-linecap="round" fill="none"/>
<path d="M1489.1 579.1V549H1495.2V579.1ZM1494.6 579.1V548.2H1515.7V579.1ZM1515.1 579.1V549H1522.6V579.1Z" fill="#000"/>
<path d="M1493.1 533h0M1491.7 534.5h0M1492.9 536.6h0M1491.4 538.3h0M1492.4 540h0M1491.8 542.3h0M1491.8 544.1h0M1491.9 545.9h0M1492.1 547.4h0M1491.9 550h0M1497.3 548.2h0M1500.5 547.7h0M1502.8 548.9h0M1503.9 548.4h0M1507.3 547.4h0M1509.5 546.9h0M1511.9 547h0M1508.2 539h0M1501.9 542.4h0M1503.8 540.4h0M1506.5 546.8h0M1500.6 548.2h0M1504.8 545.9h0M1499.9 546.1h0M1502.3 541.5h0M1499.5 538.5h0M1504.8 543.6h0M1504.7 540.7h0M1510.3 544.1h0M1504.9 542.2h0M1520.6 525.4h0M1520.3 527.3h0M1519.7 529.9h0M1519.1 531.5h0M1520.1 533.8h0M1520.6 536.4h0M1519 538.1h0M1519 539.8h0M1520.6 542h0M1519.1 544.5h0M1519.3 546.9h0M1520.3 548.8h0M1518.8 550.3h0M1491.6 506h0M1491.6 510.5h0M1491.6 515.1h0M1494.6 522.7h0M1491.6 526.5h0M1502.5 538.7h0M1507.1 536.4h0M1511.6 540.2h0M1520.8 493h0M1520.8 497.6h0M1520.8 502.2h0M1521.5 506h0M1520.8 510.5h0M1520.8 515.1h0M1520.8 518.9h0M1521.5 469.5h0M1521.5 481.7h0M1522.3 484.7h0M1522.3 490.8h0" stroke="#000" stroke-width="5.5" stroke-linecap="round" fill="none"/>
<path d="M1521.4 579.1V538.4H1527.9V579.1ZM1527.3 579.1V537.6H1532.5V579.1ZM1531.9 579.1V558.8H1554.1V579.1Z" fill="#bebebe"/>
<path d="M1523.9 494.3h0M1524.5 496.1h0M1523.8 498.3h0M1524.2 500.1h0M1523.8 502.1h0M1525.4 504.2h0M1524.5 506.1h0M1523.8 507.6h0M1523.8 509.8h0M1525.3 512.3h0M1525.4 513.8h0M1525 515.6h0M1523.9 517.9h0M1524.7 520.2h0M1523.8 522.5h0M1525.5 524.8h0M1524.4 527h0M1524.3 528.6h0M1524.9 530.4h0M1524.5 532.6h0M1524.7 534.2h0M1523.8 536.4h0M1524.7 538.9h0M1529.9 538.4h0M1529.9 530.1h0M1529.9 537.1h0M1534.7 559h0M1537.4 558.7h0M1539.4 557.2h0M1541.5 559.1h0M1543.9 557.8h0M1545.5 559.4h0M1547.3 557.4h0M1549.8 557.7h0M1543.7 548.1h0M1540.4 546.4h0M1536.3 556.6h0M1536.1 558.2h0M1547.7 549h0M1537.6 557.5h0M1541.5 548.6h0M1548.4 548.5h0M1544.5 558h0M1541.2 557.5h0M1543.4 552h0M1537.9 556.9h0M1547.8 558.8h0M1548.1 545.5h0M1550.6 555.1h0M1543.9 551.8h0M1540.2 504.4h0M1540.2 519.3h0M1554.2 518.9h0M1554.2 522.7h0M1540.2 537.1h0M1553.4 537.1h0M1528.4 535.6h0M1545.1 548.5h0M1540.2 469.5h0M1523.8 479.4h0M1553.9 482.7h0" stroke="#bebebe" stroke-width="5.5" stroke-linecap="round" fill="none"/>
<path d="M1553.8 579.1V549.7H1563.6V579.1ZM1563 579.1V550.5H1572.8V579.1ZM1572.2 579.1V549.7H1587.5V579.1Z" fill="#000"/>
<path d="M1556.7 550.7h0M1558.9 550.3h0M1559.1 546.5h0M1556.1 546.2h0M1559.4 547.9h0M1567.9 523.9h0M1567.2 525.9h0M1566.8 527.9h0M1568.2 529.9h0M1568.1 531.8h0M1568.8 534.4h0M1568.6 536h0M1566.8 538.1h0M1567.3 539.9h0M1568 541.4h0M1567.5 543.9h0M1568.4 546.4h0M1568.8 547.9h0M1568.9 550.1h0M1568.5 552.3h0M1575.6 550.5h0M1577.9 549.9h0M1579.8 547.7h0M1581.6 548h0M1584.5 549.2h0M1581.4 547.8h0M1579.5 542.2h0M1578.8 548.9h0M1583.9 542.8h0M1578.5 547.2h0M1580.1 544.5h0M1577 549.7h0M1576.8 541.9h0M1576.2 546.2h0M1576.7 548.6h0M1576.5 546.8h0M1556.5 543.2h0M1569.4 494.6h0M1569.4 499.1h0M1569.4 504.4h0M1569.4 512.8h0M1569.4 517.4h0M1574.7 527.3h0M1577 535.6h0M1584.6 538.7h0M1583.9 547h0M1569.4 475.6h0M1569.4 478.6h0M1569.4 481.7h0M1567.1 490.8h0" stroke="#000" stroke-width="5.5" stroke-linecap="round" fill="none"/>
<path d="M1587.3 579.1V553.6H1592.5V579.1ZM1591.9 579.1V552.8H1621.4V579.1Z" fill="#bebebe"/>
<path d="M1589.6 530h0M1589.6 531.4h0M1590.2 533h0M1589.6 534.5h0M1590 536.4h0M1589.6 538.7h0M1590 540.6h0M1591.4 542h0M1589.6 543.7h0M1589.6 545.6h0M1589.9 547.8h0M1589.6 549.3h0M1589.7 551.6h0M1590.2 554h0M1594.7 551.4h0M1597.3 552.6h0M1598.5 552.8h0M1602.1 550.6h0M1603.1 551.1h0M1604.7 552.7h0M1607.8 553.7h0M1610.8 553.5h0M1612.8 551.5h0M1616.3 550.8h0M1618.2 550.9h0M1602.6 543h0M1617.1 551.5h0M1612.5 541.8h0M1614.9 545.6h0M1617 549h0M1604.6 550.9h0M1613.5 547h0M1601 551.5h0M1612 544.5h0M1611.8 548.6h0M1606.3 551.7h0M1611.8 552.7h0M1605.9 541.2h0M1611 552.2h0M1600.3 539.2h0M1610.1 538.4h0M1615.7 547.5h0M1616.3 541.8h0M1602.6 548.8h0M1596.2 548.4h0M1617.8 552.2h0M1608.3 552.1h0M1596.4 543.6h0M1600.3 552.6h0M1598.2 543.7h0M1608.8 552.7h0M1600.1 536.2h0M1598.3 529.8h0M1606.7 536.4h0M1621.1 492.3h0M1619.1 519.3h0M1621.1 530.3h0M1618.1 534.1h0M1595.3 543.2h0M1615 543.2h0M1620.3 491.1h0M1598.8 477.1h0" stroke="#bebebe" stroke-width="5.5" stroke-linecap="round" fill="none"/>
<path d="M1621.2 579.1V546.7H1630.5V579.1ZM1629.9 579.1V546.7H1647.3V579.1ZM1646.7 579.1V547.4H1655.8V579.1Z" fill="#000"/>
<path d="M1623.6 546.3h0M1626.5 546.4h0M1625.9 546.3h0M1624.3 546.6h0M1633.4 544.8h0M1635.2 545.1h0M1637 546h0M1639.8 546.5h0M1642.2 547.3h0M1644.1 545.9h0M1642.7 540.1h0M1642.4 545.3h0M1639.1 542.1h0M1641.4 546.4h0M1636.7 541.8h0M1633.4 540.8h0M1641.5 542.7h0M1640.4 539.9h0M1635.1 543.7h0M1644.7 543.9h0M1637.7 546.3h0M1635.1 545.7h0M1643.9 537.8h0M1643.2 532.6h0M1640 533.7h0M1639 542.8h0M1644.1 534.3h0M1644.1 541.8h0M1650 546.5h0M1653.2 546.2h0M1649.9 547.3h0M1652.1 546.6h0M1634.3 499.9h0M1634.3 504.4h0M1634.3 508.2h0M1640.9 518.1h0M1639.4 523.4h0M1633.3 529.8h0M1640.9 528h0M1631.8 538.7h0M1640.9 536.4h0M1652.3 544h0" stroke="#000" stroke-width="5.5" stroke-linecap="round" fill="none"/>
<path d="M1655.5 579.1V556.6H1661.7V579.1ZM1661.1 579.1V555.8H1673.1V579.1ZM1672.5 579.1V543.6H1690.6V579.1ZM1673.7 579.1V550.5H1688.7V579.1ZM1688.1 579.1V551.3H1695.6V579.1Z" fill="#bebebe"/>
<path d="M1658.5 520.9h0M1657.8 523h0M1657.9 525.3h0M1658.1 527.3h0M1659 529.5h0M1657.8 531.3h0M1658.2 533.1h0M1657.8 534.5h0M1658.9 536.9h0M1659.6 539.4h0M1658.1 541.9h0M1658 543.5h0M1658.5 545.4h0M1658.1 547.5h0M1657.9 549.9h0M1659.4 551.9h0M1658 554.2h0M1659.2 555.9h0M1657.8 557.3h0M1664.2 554.1h0M1665.5 556.1h0M1668.6 556.1h0M1663.9 554.9h0M1663.7 552.6h0M1666 555.7h0M1667.4 555.5h0M1665.8 554.4h0M1669.2 552.7h0M1665.4 555.7h0M1675.5 543.5h0M1678.6 544h0M1679.6 543.9h0M1682.8 544.1h0M1684.9 542h0M1686.9 544.3h0M1681.1 538.3h0M1687.1 536.4h0M1682.9 541h0M1681.8 543h0M1677.4 538.1h0M1687.9 539.7h0M1680.4 541.6h0M1681 536.6h0M1680.9 534.4h0M1677.1 541.9h0M1681.8 541h0M1677.2 550.9h0M1679.8 548.4h0M1682.1 549.8h0M1684.3 551.2h0M1682.9 546.5h0M1681.4 535.7h0M1685.8 541.5h0M1678.2 535.1h0M1678.1 546.3h0M1684.5 547.4h0M1678.9 534.3h0M1685.6 547.4h0M1680.2 547.9h0M1677.6 548.3h0M1686 550.1h0M1678.5 548.9h0M1677 543.8h0M1683.6 537.1h0M1682.5 537.6h0M1676.3 547.9h0M1685.8 550.2h0M1678.9 544.6h0M1692.2 492.8h0M1691.6 494.8h0M1693.8 496.5h0M1693.7 498.1h0M1693.9 499.7h0M1693.1 501.9h0M1691.7 503.5h0M1692 505.8h0M1693.5 507.4h0M1691.7 509.8h0M1692.8 512.4h0M1691.8 514.3h0M1693.9 516.1h0M1691.9 517.9h0M1691.8 519.4h0M1693.7 521.3h0M1692 522.7h0M1693.9 525.3h0M1692.1 527.9h0M1693.8 529.7h0M1693.2 531.7h0M1691.6 533.4h0M1693.3 535.3h0M1692.9 537.6h0M1692.8 539.5h0M1692.8 541.5h0M1692 543.9h0M1693.8 546h0M1692 548.4h0M1693.6 551h0M1692.2 552.6h0M1658.7 505.2h0M1679.6 531.1h0M1685 535.6h0M1691.9 471.8h0M1691.9 487.7h0M1689.2 471.8h0M1689.2 477.1h0M1689.2 483.2h0" stroke="#bebebe" stroke-width="5.5" stroke-linecap="round" fill="none"/>
<path d="M1695.1 579.1V554.3H1701.7V579.1ZM1701.1 579.1V553.5H1725.2V579.1ZM1724.6 579.1V555.1H1729.8V579.1ZM1729.2 579.1V554.3H1736.6V579.1ZM1736 579.1V555.1H1743.2V579.1Z" fill="#000"/>
<path d="M1697.4 541.4h0M1697.9 544h0M1697.4 546.4h0M1699 547.8h0M1699.3 550.2h0M1698.1 552.4h0M1697.4 554.7h0M1704 551.8h0M1706.3 552.9h0M1708.5 552.5h0M1711.7 554.3h0M1714.3 552.2h0M1716.6 551.7h0M1719.5 552.4h0M1721.4 554.4h0M1712.7 550.9h0M1720.3 546.9h0M1713.7 551.5h0M1715.4 553.4h0M1711.7 548.2h0M1718.4 553.4h0M1719.9 551.9h0M1722.3 552h0M1726.5 540.6h0M1728.1 542.7h0M1728.1 544.6h0M1726.9 546.9h0M1727.2 548.6h0M1726.9 550.5h0M1728.1 552.7h0M1726.4 554.8h0M1726.9 556.5h0M1731.8 552.3h0M1732.4 554.3h0M1733 549.6h0M1739.7 534.6h0M1740.4 536.8h0M1740.6 539.3h0M1740 541.2h0M1740.5 542.7h0M1739.5 544.6h0M1739.1 547h0M1740.4 548.7h0M1738.6 550.8h0M1739.3 552.2h0M1740.4 553.6h0M1739.1 555.3h0M1698 496.1h0M1698 500.6h0M1698 506.7h0M1698 511.3h0M1698 514.3h0M1698 528h0M1698 532.6h0M1718.9 548.5h0M1738.6 516.2h0M1743.9 518.1h0M1743.2 510.5h0M1743.6 470.3h0" stroke="#000" stroke-width="5.5" stroke-linecap="round" fill="none"/>
<path d="M1742.9 579.1V553.6H1748.8V579.1ZM1748.2 579.1V552.8H1797.8V579.1Z" fill="#bebebe"/>
<path d="M1745.9 523.2h0M1746.2 525.1h0M1745.7 527.3h0M1747 528.8h0M1745.2 531h0M1746.5 532.9h0M1745.2 535.5h0M1745.8 536.9h0M1746.8 538.9h0M1745.4 541.2h0M1746 543.1h0M1745.2 545.6h0M1745.2 547.5h0M1745.2 549.6h0M1745.9 552.2h0M1745.2 554.3h0M1751.2 553.3h0M1753.3 553.7h0M1756.2 551.2h0M1758.6 551h0M1760.6 551.7h0M1763.7 553.3h0M1765.4 550.8h0M1767.8 551.2h0M1770.5 553.2h0M1773.3 553.5h0M1775.6 551.2h0M1777.6 551.8h0M1780.7 550.8h0M1782.4 551.1h0M1784.2 552.8h0M1786.1 551.3h0M1788.8 551.4h0M1791 552.7h0M1793.4 553h0M1774.7 544h0M1778.7 547.2h0M1753.2 539.5h0M1789 546.3h0M1776.5 550.1h0M1790.7 542h0M1760.6 538.8h0M1794.6 548.9h0M1795 546.4h0M1758.7 541.3h0M1765.8 540.9h0M1776.7 552.1h0M1774.2 537.9h0M1772 545.3h0M1789.1 547.1h0M1772.7 544.3h0M1787.4 551h0M1754.9 540.2h0M1775.3 549.6h0M1790.4 537h0M1774.8 534.1h0M1787.9 540.5h0M1763.7 552.7h0M1780.9 540.8h0M1766.3 546.5h0M1776 550.4h0M1781.8 544.8h0M1767.9 552.1h0M1775.4 549.3h0M1783 551.4h0M1768.3 551.1h0M1768.9 544.5h0M1755.5 552.5h0M1772.2 551.1h0M1773.2 551.5h0M1755.2 545.3h0M1791.8 537.4h0M1773.7 548h0M1753.7 550h0M1764.7 535.4h0M1756 535.3h0M1771.9 547.3h0M1762.4 534.9h0M1759 544.6h0M1773.5 551.1h0M1760.7 534.2h0M1785.9 540.9h0M1790.9 552.2h0M1782 540.4h0M1760.8 546.9h0M1794.1 549.2h0M1784.6 551.5h0M1780.4 550.1h0M1773.4 548.5h0M1789.4 540.6h0M1773.2 542h0M1769.8 539.1h0M1762.2 545.2h0M1776.8 548.2h0M1745.5 491.5h0M1745.5 501.4h0M1745.5 506.7h0M1745.5 512.8h0M1763.7 506.4h0M1763.7 512.8h0M1760.7 517.4h0M1787.3 515.8h0M1782 524.2h0M1763.7 530.3h0M1785.8 531.8h0M1756.1 534.1h0M1778.9 538.7h0M1754.6 540.2h0M1766.7 541.7h0M1794.9 541.7h0M1786.5 538.7h0M1746.2 484.7h0M1746.2 489.3h0" stroke="#bebebe" stroke-width="5.5" stroke-linecap="round" fill="none"/>
<path d="M1797.5 579.1V553.6H1803.5V579.1ZM1802.9 579.1V552.8H1826.3V579.1ZM1825.7 579.1V544.4H1862.8V579.1ZM1862.2 579.1V545.2H1868.2V579.1Z" fill="#000"/>
<path d="M1799.8 514h0M1800.7 515.6h0M1801 517.3h0M1801.5 519.3h0M1801 521.7h0M1799.8 523.6h0M1801 525.6h0M1799.8 528.1h0M1801.6 529.7h0M1800.4 532h0M1799.8 534.3h0M1800.8 536.4h0M1799.8 538.5h0M1800.7 540h0M1799.8 542.5h0M1799.8 543.9h0M1800.1 546.3h0M1801.6 548.2h0M1799.8 550.3h0M1799.8 552.6h0M1800.9 554.3h0M1805.4 552.2h0M1808.6 550.9h0M1810.6 553.1h0M1813.2 551.6h0M1814.9 553.1h0M1816.7 551.9h0M1818.5 552.4h0M1821.2 551.5h0M1822.2 551.7h0M1815.9 551.4h0M1819.4 548.2h0M1817.6 546.6h0M1815 550h0M1811.1 552.6h0M1820 549.3h0M1807.3 544h0M1816.1 547.9h0M1813.5 552.3h0M1823.8 552.1h0M1812.2 542.9h0M1807.7 549.3h0M1814.3 551.6h0M1829.3 543.5h0M1830.4 542.2h0M1833.4 545.1h0M1834.9 543.2h0M1836.7 543.2h0M1838.9 542.5h0M1841.1 545.3h0M1843 544.6h0M1846.2 543.8h0M1847.9 544.4h0M1851.2 542.2h0M1852.6 545.2h0M1854.8 544h0M1856.7 544.1h0M1858.1 544.6h0M1843.4 542.9h0M1839.7 538.4h0M1852.1 533.8h0M1843.5 543.4h0M1839.1 544.2h0M1836 539.3h0M1847.8 543.1h0M1834.1 544.1h0M1834 540.4h0M1836.5 535h0M1846.4 542.2h0M1842.1 544.3h0M1851.7 537h0M1839.9 537.4h0M1837 543.2h0M1835.6 543.4h0M1847.7 538.6h0M1851.6 544h0M1852.8 540.6h0M1840.4 540.4h0M1842.1 543.4h0M1840.9 538.5h0M1851.2 534.5h0M1834.5 534.8h0M1853.9 537.6h0M1859.6 543.8h0M1853.1 534.7h0M1832.2 539.2h0M1858.6 542.6h0M1855.7 534.6h0M1842.2 543.8h0M1835.2 535.8h0M1841.8 542.4h0M1842.5 534.2h0M1836.4 544.4h0M1866.4 531.5h0M1865 533.3h0M1864.8 535.9h0M1866.2 537.4h0M1864.6 539.1h0M1864.7 541.6h0M1864.9 544.1h0M1864.6 545.8h0M1800.2 491.5h0M1800.2 496.1h0M1800.2 500.6h0M1800.2 504.4h0M1831.4 521.2h0M1841.2 517.4h0M1841.2 522.7h0M1857.2 510.5h0M1864.8 492.7h0M1833.6 527.3h0M1844.3 531.1h0M1851.9 530.3h0M1851.9 533.3h0M1827.6 534.1h0M1810.1 535.2h0M1803.2 531.8h0M1844.3 538.7h0M1813.1 545.5h0M1800.2 469.5h0M1800.2 474.1h0M1800.2 478.6h0M1800.2 483.2h0M1800.2 487.7h0M1864.8 476.6h0M1864.8 491.5h0" stroke="#000" stroke-width="5.5" stroke-linecap="round" fill="none"/>
<path d="M1865.3 579.1V555.8H1941.9V579.1ZM1941.3 579.1V556.6H1949V579.1Z" fill="#bebebe"/>
<path d="M1868.1 554.9h0M1870.1 556.3h0M1873.6 556.2h0M1874.7 554.3h0M1877.3 556.5h0M1879.7 554h0M1881.3 556.5h0M1883.6 556.6h0M1886.2 554.6h0M1887.8 556.5h0M1890.2 555.7h0M1892.5 554h0M1894.7 556.4h0M1896.9 554.7h0M1898.9 555.3h0M1901.1 554.5h0M1903.9 555h0M1906.2 554h0M1908.5 555.1h0M1910.2 556.3h0M1912.1 554.8h0M1914 555.1h0M1916.2 555.1h0M1918.4 556.7h0M1921 554.2h0M1923 553.9h0M1926.1 556.3h0M1929 553.8h0M1930.1 556h0M1933.1 556.2h0M1936 556.4h0M1937.7 556.5h0M1873.7 543.8h0M1887.7 547.2h0M1869.6 554.3h0M1918.9 555.7h0M1904.2 541.4h0M1882.9 546.4h0M1921 548h0M1922.6 546.5h0M1868.6 554.5h0M1906.1 540.6h0M1883.1 548.6h0M1876.8 543.4h0M1899.5 549.8h0M1915.6 555h0M1919.9 544.4h0M1929.3 553.4h0M1884.4 554.7h0M1932.1 551.2h0M1895.5 549.8h0M1917.7 553h0M1891.7 545.1h0M1923.3 553.2h0M1872.8 541.6h0M1919.9 548.5h0M1896.6 540.9h0M1898.5 554.2h0M1874.8 552.5h0M1910.7 552.3h0M1935.6 547.5h0M1900.4 547.3h0M1910.8 548.1h0M1903.1 549.8h0M1902.8 543.7h0M1881.3 544.7h0M1889 543.4h0M1872.8 550.4h0M1899.4 546.3h0M1882.1 553.7h0M1877.1 549.1h0M1908.9 555.8h0M1880.3 554.4h0M1936.3 550.9h0M1908.2 553.3h0M1914.9 544.1h0M1915.7 555.8h0M1899.1 550.4h0M1870.7 544.6h0M1890.4 553.3h0M1912.4 548.7h0M1903.2 543.1h0M1904.8 552.6h0M1872.2 549.3h0M1893.6 549.5h0M1892.5 555.8h0M1870.3 554.8h0M1874.3 543.3h0M1909.2 554h0M1918.6 547.8h0M1872 545.4h0M1884 539.9h0M1877.7 553.4h0M1885.4 543.1h0M1926.3 548.8h0M1878.2 551.3h0M1918 555.6h0M1933.7 543.5h0M1934.4 546.5h0M1945.5 531.5h0M1944.6 534.1h0M1944.3 535.9h0M1945.9 537.5h0M1945.8 539h0M1946.1 540.9h0M1945.6 543.2h0M1944.1 545.6h0M1944.9 547.3h0M1945.6 549.2h0M1945.7 551.7h0M1945.6 554.2h0M1945.2 556h0M1945.9 558.3h0M1883.8 534.4h0M1873.2 539h0M1880 539.4h0M1908.9 528h0M1915 529.8h0M1915 534.1h0M1909.7 538.7h0M1900.5 543.2h0M1935.5 543.2h0M1923.4 547h0M1945.1 495.3h0M1945.1 501.4h0M1945.1 505.2h0M1945.1 509.8h0M1945.1 527.3h0" stroke="#bebebe" stroke-width="5.5" stroke-linecap="round" fill="none"/>
<path d="M1377.05 467.55H1825" stroke="#f00" stroke-width="1.1" fill="none"/><path d="M1824.5 468.3H1974" stroke="#f00" stroke-width="1.5" fill="none"/>
<path d="M1566.8 65.9h0M1485.9 182.9h0M1476.8 215.8h0M1485.9 272.9h0M1476.8 294.8h0M1476.8 323.7h0M1569 317.9h0M1742 309.7h0M1800.1 300h0M1539.8 344.4h0M1440.3 352.3h0M1485.9 354.7h0M1489 363.8h0M1485.9 381.8h0M1690.9 361.7h0M1697.9 357.7h0M1831.4 379.6h0M1523.6 397.9h0M1697 391.8h0M1690.9 398.2h0M1695.8 403.4h0M1475.9 407.9h0M1475.9 413.4h0M1523.8 397.7h0M1475.9 407.9h0M1475.9 411.7h0M1475.9 415.5h0M1440.6 429.2h0M1477 431.8h0M1485.8 431.5h0M1485.8 435.3h0M1485.8 439.1h0M1485.8 443.4h0M1523.8 433.8h0M1540.2 430h0M1599.1 427.4h0M1440.6 445.9h0M1477 445.9h0M1477 456.3h0M1485.8 458.9h0M1485.8 462.7h0M1477 462.7h0M1477 464.9h0M1438.7 464.2h0M1440.9 463.1h0M1523.5 463.4h0M1523.5 465.7h0M1569.1 465.7h0M1692.2 399.6h0M1696 402.6h0M1691.9 428.4h0M1691.9 432.3h0M1743.2 428.8h0M1785.8 447.9h0M1787.3 463.1h0M1800.2 433.8h0M1800.2 437.6h0M1800.2 441.4h0M1800.2 445.2h0M1800.2 449h0M1800.2 452.8h0M1800.2 456.6h0M1800.2 460.4h0M1800.2 464.2h0M1800.2 466.2h0M1690.7 457.3h0M1697.6 458.6h0M1695.3 464.9h0M1743.9 463.4h0" stroke="#f00" stroke-width="6" stroke-linecap="round" fill="none"/>
<path d="M1377 37.6V602.9H1972.6" stroke="#000" stroke-width="2.0" fill="none"/>
<path d="M1377 576.9h-3.9M1377 533.4h-3.9M1377 490h-3.9M1377 446.5h-3.9M1377 403.1h-3.9M1377 359.6h-3.9M1377 316.2h-3.9M1377 272.7h-3.9M1377 229.3h-3.9M1377 185.8h-3.9M1377 142.4h-3.9M1377 98.9h-3.9M1377 55.5h-3.9M1410.4 602.9v3.9M1427.7 602.9v3.9M1450.7 602.9v3.9M1477.4 602.9v3.9M1506.9 602.9v3.9M1539 602.9v3.9M1572.3 602.9v3.9M1605.7 602.9v3.9M1640.1 602.9v3.9M1677 602.9v3.9M1721.1 602.9v3.9M1771.4 602.9v3.9M1833.1 602.9v3.9M1906.7 602.9v3.9" stroke="#000" stroke-width="2.0" fill="none"/>
<g font-size="15.3" text-anchor="end" stroke="#000" stroke-width="0.4">
<text transform="translate(1370.5 582.8) scale(1 1.04)">0</text>
<text transform="translate(1370.5 539.3) scale(1 1.04)">2</text>
<text transform="translate(1370.5 495.9) scale(1 1.04)">4</text>
<text transform="translate(1370.5 452.4) scale(1 1.04)">6</text>
<text transform="translate(1370.5 409) scale(1 1.04)">8</text>
<text transform="translate(1370.5 365.5) scale(1 1.04)">10</text>
<text transform="translate(1370.5 322.1) scale(1 1.04)">12</text>
<text transform="translate(1370.5 278.6) scale(1 1.04)">14</text>
<text transform="translate(1370.5 235.2) scale(1 1.04)">16</text>
<text transform="translate(1370.5 191.7) scale(1 1.04)">18</text>
<text transform="translate(1370.5 148.3) scale(1 1.04)">20</text>
<text transform="translate(1370.5 104.8) scale(1 1.04)">22</text>
<text transform="translate(1370.5 61.4) scale(1 1.04)">24</text>
</g>
<g font-size="15.3" text-anchor="middle" stroke="#000" stroke-width="0.4">
<text transform="translate(1410.4 620) scale(1 1.04)">1</text>
<text transform="translate(1427.7 620) scale(1 1.04)">2</text>
<text transform="translate(1450.7 620) scale(1 1.04)">3</text>
<text transform="translate(1477.4 620) scale(1 1.04)">4</text>
<text transform="translate(1506.9 620) scale(1 1.04)">5</text>
<text transform="translate(1539 620) scale(1 1.04)">6</text>
<text transform="translate(1572.3 620) scale(1 1.04)">7</text>
<text transform="translate(1605.7 620) scale(1 1.04)">8</text>
<text transform="translate(1640.1 620) scale(1 1.04)">9</text>
<text transform="translate(1677 620) scale(1 1.04)">10</text>
<text transform="translate(1721.1 620) scale(1 1.04)">11</text>
<text transform="translate(1771.4 620) scale(1 1.04)">12</text>
<text transform="translate(1833.1 620) scale(1 1.04)">13</text>
<text transform="translate(1906.7 620) scale(1 1.04)">14</text>
</g>
<g font-size="11.0" text-anchor="middle">
<rect x="1770.0" y="272.6" width="62.6" height="19.1" rx="3" fill="#fff" stroke="#1c1c1c" stroke-width="1.1"/>
<text transform="translate(1801.3 286.2) scale(1 1.04)" fill="#111" stroke="#111" stroke-width="0.3">SURF13.1</text>
<rect x="1394.1" y="358.3" width="59.6" height="20.7" rx="3" fill="#fff" stroke="#1c1c1c" stroke-width="1.1"/>
<text transform="translate(1423.9 372.8) scale(1 1.04)" fill="#111" stroke="#111" stroke-width="0.3">CLAG3.2</text>
<rect x="1504.8" y="350.1" width="36.5" height="20.7" rx="3" fill="#fff" stroke="#1c1c1c" stroke-width="1.1"/>
<text transform="translate(1523.0 364.6) scale(1 1.04)" fill="#111" stroke="#111" stroke-width="0.3">VAR</text>
<rect x="1664.5" y="365.6" width="97.3" height="21.3" rx="3" fill="#fff" stroke="#1c1c1c" stroke-width="1.1"/>
<text transform="translate(1713.2 380.4) scale(1 1.04)" fill="#111" stroke="#111" stroke-width="0.3">PF3D7_1039600</text>
<rect x="1478.2" y="404.4" width="56.2" height="20.6" rx="3" fill="#fff" stroke="#1c1c1c" stroke-width="1.1"/>
<text transform="translate(1506.3 418.8) scale(1 1.04)" fill="#111" stroke="#111" stroke-width="0.3">MC-2TM</text>
<rect x="1587.4" y="404.6" width="97.9" height="20.8" rx="3" fill="#fff" stroke="#1c1c1c" stroke-width="1.1"/>
<text transform="translate(1636.3 419.1) scale(1 1.04)" fill="#111" stroke="#111" stroke-width="0.3">PF3D7_1035200</text>
<rect x="1492.2" y="435.0" width="97.3" height="20.8" rx="3" fill="#fff" stroke="#1c1c1c" stroke-width="1.1"/>
<text transform="translate(1540.8 449.5) scale(1 1.04)" fill="#111" stroke="#111" stroke-width="0.3">PF3D7_0421400</text>
<rect x="1676.3" y="434.8" width="65.4" height="21.0" rx="3" fill="#fff" stroke="#1c1c1c" stroke-width="1.1"/>
<text transform="translate(1709.0 449.4) scale(1 1.04)" fill="#111" stroke="#111" stroke-width="0.3">DBLMSP2</text>
</g>
<path d="M1770 294.5H1832.6" stroke="#dcdcdc" stroke-width="0.8"/>
<text transform="translate(1331.6 20.8) scale(0.86 1.07)" font-size="24.7" text-anchor="start" font-weight="bold" stroke="#000" stroke-width="0.5">C</text>
<text transform="translate(1667.5 16.8) scale(1 1.08)" font-size="22.3" text-anchor="middle" stroke="#000" stroke-width="0.4"><tspan font-style="italic">Rsb</tspan> Mali 2019-2020 vs. Mali 2015-2017</text>
<text transform="translate(1675.3 638.0) scale(1 1.0)" font-size="15.65" text-anchor="middle" stroke="#000" stroke-width="0.4">Chromosome</text>
<text transform="translate(1343.3 316.3) rotate(-90) scale(1 1.0)" font-size="15.9" text-anchor="middle" stroke="#000" stroke-width="0.4">−<tspan dx="1.5">log</tspan><tspan font-size="10.6" dy="2.7">10</tspan><tspan dy="-2.7"> (</tspan><tspan font-style="italic">p</tspan>-value)</text>
</g>
</svg></body></html>
